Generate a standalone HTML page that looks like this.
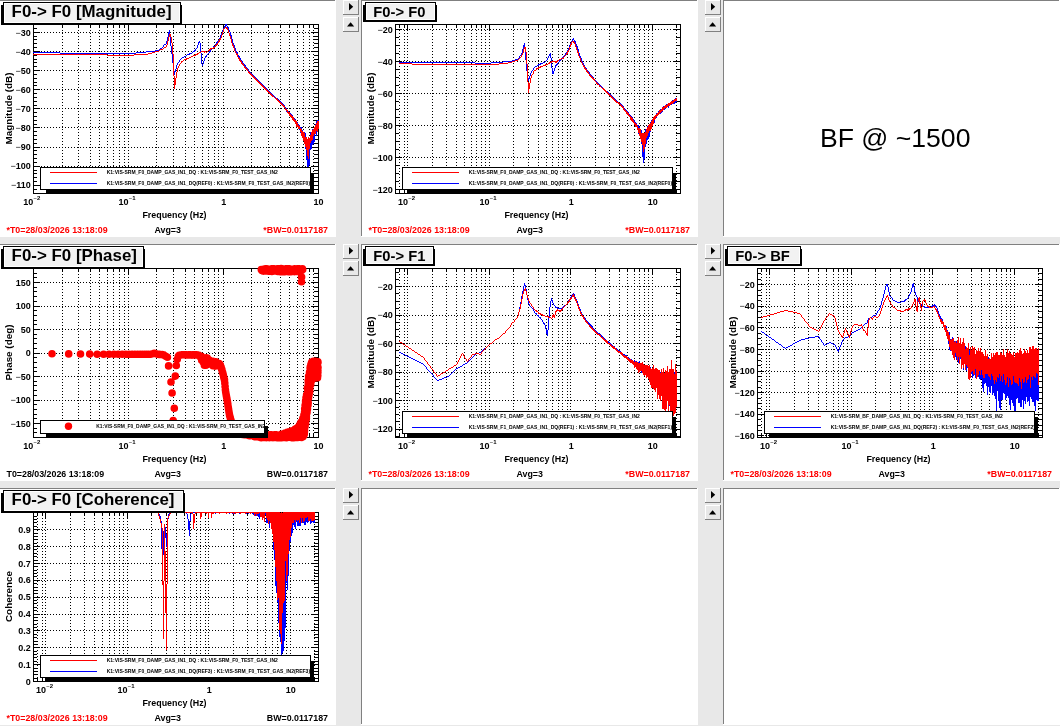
<!DOCTYPE html>
<html><head><meta charset="utf-8"><title>diaggui plots</title>
<style>
html,body{margin:0;padding:0;background:#e8e8e8;overflow:hidden}
svg{display:block;font-family:'Liberation Sans', Arial, Helvetica, sans-serif}
text{font-family:'Liberation Sans', Arial, Helvetica, sans-serif}
</style></head><body>
<svg width="1060" height="726" viewBox="0 0 1060 726">
<rect x="0" y="0" width="1060" height="726" fill="#e8e8e8"/>
<rect x="-1" y="0" width="337" height="237" fill="#ffffff"/>
<rect x="-1" y="0" width="336" height="1" fill="#808080"/>
<rect x="-1" y="0" width="1" height="236" fill="#808080"/>
<rect x="343" y="0" width="16" height="15" fill="#e8e8e8"/>
<rect x="343" y="0" width="15" height="1" fill="#ffffff"/>
<rect x="343" y="0" width="1" height="14" fill="#ffffff"/>
<rect x="343" y="14" width="16" height="1" fill="#808080"/>
<rect x="358" y="0" width="1" height="15" fill="#808080"/>
<path d="M349,3 L349,10.5 L353.2,6.75 Z" fill="#000"/>
<rect x="343" y="17" width="16" height="15" fill="#e8e8e8"/>
<rect x="343" y="17" width="15" height="1" fill="#ffffff"/>
<rect x="343" y="17" width="1" height="14" fill="#ffffff"/>
<rect x="343" y="31" width="16" height="1" fill="#808080"/>
<rect x="358" y="17" width="1" height="15" fill="#808080"/>
<path d="M347,26.5 L354.2,26.5 L350.6,22.3 Z" fill="#000"/>
<rect x="361" y="0" width="337" height="237" fill="#ffffff"/>
<rect x="361" y="0" width="336" height="1" fill="#808080"/>
<rect x="361" y="0" width="1" height="236" fill="#808080"/>
<rect x="705" y="0" width="16" height="15" fill="#e8e8e8"/>
<rect x="705" y="0" width="15" height="1" fill="#ffffff"/>
<rect x="705" y="0" width="1" height="14" fill="#ffffff"/>
<rect x="705" y="14" width="16" height="1" fill="#808080"/>
<rect x="720" y="0" width="1" height="15" fill="#808080"/>
<path d="M711,3 L711,10.5 L715.2,6.75 Z" fill="#000"/>
<rect x="705" y="17" width="16" height="15" fill="#e8e8e8"/>
<rect x="705" y="17" width="15" height="1" fill="#ffffff"/>
<rect x="705" y="17" width="1" height="14" fill="#ffffff"/>
<rect x="705" y="31" width="16" height="1" fill="#808080"/>
<rect x="720" y="17" width="1" height="15" fill="#808080"/>
<path d="M709,26.5 L716.2,26.5 L712.6,22.3 Z" fill="#000"/>
<rect x="723" y="0" width="337" height="237" fill="#ffffff"/>
<rect x="723" y="0" width="336" height="1" fill="#808080"/>
<rect x="723" y="0" width="1" height="236" fill="#808080"/>
<rect x="-1" y="244" width="337" height="237" fill="#ffffff"/>
<rect x="-1" y="244" width="336" height="1" fill="#808080"/>
<rect x="-1" y="244" width="1" height="236" fill="#808080"/>
<rect x="343" y="244" width="16" height="15" fill="#e8e8e8"/>
<rect x="343" y="244" width="15" height="1" fill="#ffffff"/>
<rect x="343" y="244" width="1" height="14" fill="#ffffff"/>
<rect x="343" y="258" width="16" height="1" fill="#808080"/>
<rect x="358" y="244" width="1" height="15" fill="#808080"/>
<path d="M349,247 L349,254.5 L353.2,250.75 Z" fill="#000"/>
<rect x="343" y="261" width="16" height="15" fill="#e8e8e8"/>
<rect x="343" y="261" width="15" height="1" fill="#ffffff"/>
<rect x="343" y="261" width="1" height="14" fill="#ffffff"/>
<rect x="343" y="275" width="16" height="1" fill="#808080"/>
<rect x="358" y="261" width="1" height="15" fill="#808080"/>
<path d="M347,270.5 L354.2,270.5 L350.6,266.3 Z" fill="#000"/>
<rect x="361" y="244" width="337" height="237" fill="#ffffff"/>
<rect x="361" y="244" width="336" height="1" fill="#808080"/>
<rect x="361" y="244" width="1" height="236" fill="#808080"/>
<rect x="705" y="244" width="16" height="15" fill="#e8e8e8"/>
<rect x="705" y="244" width="15" height="1" fill="#ffffff"/>
<rect x="705" y="244" width="1" height="14" fill="#ffffff"/>
<rect x="705" y="258" width="16" height="1" fill="#808080"/>
<rect x="720" y="244" width="1" height="15" fill="#808080"/>
<path d="M711,247 L711,254.5 L715.2,250.75 Z" fill="#000"/>
<rect x="705" y="261" width="16" height="15" fill="#e8e8e8"/>
<rect x="705" y="261" width="15" height="1" fill="#ffffff"/>
<rect x="705" y="261" width="1" height="14" fill="#ffffff"/>
<rect x="705" y="275" width="16" height="1" fill="#808080"/>
<rect x="720" y="261" width="1" height="15" fill="#808080"/>
<path d="M709,270.5 L716.2,270.5 L712.6,266.3 Z" fill="#000"/>
<rect x="723" y="244" width="337" height="237" fill="#ffffff"/>
<rect x="723" y="244" width="336" height="1" fill="#808080"/>
<rect x="723" y="244" width="1" height="236" fill="#808080"/>
<rect x="-1" y="488" width="337" height="237" fill="#ffffff"/>
<rect x="-1" y="488" width="336" height="1" fill="#808080"/>
<rect x="-1" y="488" width="1" height="236" fill="#808080"/>
<rect x="343" y="488" width="16" height="15" fill="#e8e8e8"/>
<rect x="343" y="488" width="15" height="1" fill="#ffffff"/>
<rect x="343" y="488" width="1" height="14" fill="#ffffff"/>
<rect x="343" y="502" width="16" height="1" fill="#808080"/>
<rect x="358" y="488" width="1" height="15" fill="#808080"/>
<path d="M349,491 L349,498.5 L353.2,494.75 Z" fill="#000"/>
<rect x="343" y="505" width="16" height="15" fill="#e8e8e8"/>
<rect x="343" y="505" width="15" height="1" fill="#ffffff"/>
<rect x="343" y="505" width="1" height="14" fill="#ffffff"/>
<rect x="343" y="519" width="16" height="1" fill="#808080"/>
<rect x="358" y="505" width="1" height="15" fill="#808080"/>
<path d="M347,514.5 L354.2,514.5 L350.6,510.3 Z" fill="#000"/>
<rect x="361" y="488" width="337" height="237" fill="#ffffff"/>
<rect x="361" y="488" width="336" height="1" fill="#808080"/>
<rect x="361" y="488" width="1" height="236" fill="#808080"/>
<rect x="705" y="488" width="16" height="15" fill="#e8e8e8"/>
<rect x="705" y="488" width="15" height="1" fill="#ffffff"/>
<rect x="705" y="488" width="1" height="14" fill="#ffffff"/>
<rect x="705" y="502" width="16" height="1" fill="#808080"/>
<rect x="720" y="488" width="1" height="15" fill="#808080"/>
<path d="M711,491 L711,498.5 L715.2,494.75 Z" fill="#000"/>
<rect x="705" y="505" width="16" height="15" fill="#e8e8e8"/>
<rect x="705" y="505" width="15" height="1" fill="#ffffff"/>
<rect x="705" y="505" width="1" height="14" fill="#ffffff"/>
<rect x="705" y="519" width="16" height="1" fill="#808080"/>
<rect x="720" y="505" width="1" height="15" fill="#808080"/>
<path d="M709,514.5 L716.2,514.5 L712.6,510.3 Z" fill="#000"/>
<rect x="723" y="488" width="337" height="237" fill="#ffffff"/>
<rect x="723" y="488" width="336" height="1" fill="#808080"/>
<rect x="723" y="488" width="1" height="236" fill="#808080"/>
<path d="M128.5,24V193M223.5,24V193M62.5,24V193M78.5,24V193M90.5,24V193M99.5,24V193M107.5,24V193M113.5,24V193M119.5,24V193M124.5,24V193M156.5,24V193M173.5,24V193M185.5,24V193M194.5,24V193M202.5,24V193M208.5,24V193M214.5,24V193M218.5,24V193M251.5,24V193M268.5,24V193M280.5,24V193M289.5,24V193M297.5,24V193M303.5,24V193M309.5,24V193M313.5,24V193M35,32.5H318M35,51.5H318M35,70.5H318M35,89.5H318M35,108.5H318M35,127.5H318M35,147.5H318M35,166.5H318M35,185.5H318" stroke="#000" stroke-width="1" stroke-dasharray="1,2" fill="none" shape-rendering="crispEdges"/>
<rect x="33.5" y="24.5" width="285" height="169" fill="none" stroke="#000" stroke-width="1" shape-rendering="crispEdges"/>
<path d="M33.5,193v-6M33.5,25v6M128.5,193v-6M128.5,25v6M223.5,193v-6M223.5,25v6M318.5,193v-6M318.5,25v6M62.5,193v-3M62.5,25v3M78.5,193v-3M78.5,25v3M90.5,193v-3M90.5,25v3M99.5,193v-3M99.5,25v3M107.5,193v-3M107.5,25v3M113.5,193v-3M113.5,25v3M119.5,193v-3M119.5,25v3M124.5,193v-3M124.5,25v3M156.5,193v-3M156.5,25v3M173.5,193v-3M173.5,25v3M185.5,193v-3M185.5,25v3M194.5,193v-3M194.5,25v3M202.5,193v-3M202.5,25v3M208.5,193v-3M208.5,25v3M214.5,193v-3M214.5,25v3M218.5,193v-3M218.5,25v3M251.5,193v-3M251.5,25v3M268.5,193v-3M268.5,25v3M280.5,193v-3M280.5,25v3M289.5,193v-3M289.5,25v3M297.5,193v-3M297.5,25v3M303.5,193v-3M303.5,25v3M309.5,193v-3M309.5,25v3M313.5,193v-3M313.5,25v3M34,189.5h3M318,189.5h-4M34,185.5h6M318,185.5h-7M34,181.5h3M318,181.5h-4M34,177.5h3M318,177.5h-4M34,173.5h3M318,173.5h-4M34,170.5h3M318,170.5h-4M34,166.5h6M318,166.5h-7M34,162.5h3M318,162.5h-4M34,158.5h3M318,158.5h-4M34,154.5h3M318,154.5h-4M34,150.5h3M318,150.5h-4M34,147.5h6M318,147.5h-7M34,143.5h3M318,143.5h-4M34,139.5h3M318,139.5h-4M34,135.5h3M318,135.5h-4M34,131.5h3M318,131.5h-4M34,127.5h6M318,127.5h-7M34,124.5h3M318,124.5h-4M34,120.5h3M318,120.5h-4M34,116.5h3M318,116.5h-4M34,112.5h3M318,112.5h-4M34,108.5h6M318,108.5h-7M34,105.5h3M318,105.5h-4M34,101.5h3M318,101.5h-4M34,97.5h3M318,97.5h-4M34,93.5h3M318,93.5h-4M34,89.5h6M318,89.5h-7M34,85.5h3M318,85.5h-4M34,82.5h3M318,82.5h-4M34,78.5h3M318,78.5h-4M34,74.5h3M318,74.5h-4M34,70.5h6M318,70.5h-7M34,66.5h3M318,66.5h-4M34,62.5h3M318,62.5h-4M34,59.5h3M318,59.5h-4M34,55.5h3M318,55.5h-4M34,51.5h6M318,51.5h-7M34,47.5h3M318,47.5h-4M34,43.5h3M318,43.5h-4M34,39.5h3M318,39.5h-4M34,36.5h3M318,36.5h-4M34,32.5h6M318,32.5h-7M34,28.5h3M318,28.5h-4" stroke="#000" stroke-width="1" fill="none" shape-rendering="crispEdges"/>
<text x="30.8" y="35.5" font-size="9" font-weight="bold" text-anchor="end"><tspan font-weight="normal">−</tspan>30</text>
<text x="30.8" y="54.6" font-size="9" font-weight="bold" text-anchor="end"><tspan font-weight="normal">−</tspan>40</text>
<text x="30.8" y="73.7" font-size="9" font-weight="bold" text-anchor="end"><tspan font-weight="normal">−</tspan>50</text>
<text x="30.8" y="92.8" font-size="9" font-weight="bold" text-anchor="end"><tspan font-weight="normal">−</tspan>60</text>
<text x="30.8" y="111.9" font-size="9" font-weight="bold" text-anchor="end"><tspan font-weight="normal">−</tspan>70</text>
<text x="30.8" y="131.0" font-size="9" font-weight="bold" text-anchor="end"><tspan font-weight="normal">−</tspan>80</text>
<text x="30.8" y="150.2" font-size="9" font-weight="bold" text-anchor="end"><tspan font-weight="normal">−</tspan>90</text>
<text x="30.8" y="169.3" font-size="9" font-weight="bold" text-anchor="end"><tspan font-weight="normal">−</tspan>100</text>
<text x="30.8" y="188.4" font-size="9" font-weight="bold" text-anchor="end"><tspan font-weight="normal">−</tspan>110</text>
<text x="33.2" y="204.8" font-size="9" font-weight="bold" text-anchor="end">10</text>
<text x="33.4" y="200.4" font-size="6" font-weight="bold"><tspan font-weight="normal">−</tspan>2</text>
<text x="128.6" y="204.8" font-size="9" font-weight="bold" text-anchor="end">10</text>
<text x="128.8" y="200.4" font-size="6" font-weight="bold"><tspan font-weight="normal">−</tspan>1</text>
<text x="223.8" y="204.6" font-size="9" font-weight="bold" text-anchor="middle">1</text>
<text x="318.5" y="204.6" font-size="9" font-weight="bold" text-anchor="middle">10</text>
<text x="174.5" y="217.6" font-size="8.9" font-weight="bold" text-anchor="middle">Frequency (Hz)</text>
<text transform="translate(12.4,108.5) rotate(-90)" font-size="9.9" font-weight="bold" text-anchor="middle">Magnitude (dB)</text>
<clipPath id="pc0_0"><rect x="33" y="24" width="286" height="170"/></clipPath>
<g clip-path="url(#pc0_0)">
<path d="M163.5,45V47M166.5,41V44M167.5,37V41M168.5,32V37M169.5,30V37M170.5,37V46M171.5,46V54M172.5,54V63M173.5,63V71M174.5,71V75M175.5,69V72M176.5,65V69M177.5,63V65M179.5,60V62M189.5,53V55M194.5,50V52M195.5,49V51M197.5,45V48M198.5,42V45M199.5,41V43M200.5,43V53M201.5,53V64M202.5,64V66M203.5,61V64M204.5,58V61M205.5,56V58M206.5,55V57M209.5,51V53M210.5,50V52M213.5,46V48M215.5,44V46M216.5,42V44M217.5,41V43M218.5,40V42M219.5,38V40M220.5,35V38M221.5,33V35M222.5,30V33M223.5,28V30M224.5,26V29M225.5,24V27M226.5,24V26M227.5,26V28M228.5,27V30M229.5,30V32M230.5,32V36M231.5,35V39M232.5,39V43M233.5,43V46M234.5,45V48M235.5,48V51M236.5,51V53M237.5,52V55M238.5,55V57M239.5,56V59M240.5,58V61M241.5,60V62M242.5,61V64M243.5,63V65M244.5,64V66M245.5,65V67M246.5,67V69M247.5,68V70M248.5,69V71M249.5,71V73M250.5,72V74M251.5,73V75M252.5,74V76M253.5,75V77M254.5,76V78M255.5,77V79M256.5,78V80M257.5,79V81M258.5,80V82M259.5,81V83M260.5,82V84M261.5,83V85M262.5,84V86M263.5,85V87M264.5,86V88M265.5,87V89M266.5,88V90M267.5,89V91M268.5,90V92M269.5,91V93M270.5,92V94M271.5,93V95M272.5,94V96M273.5,95V97M274.5,96V98M277.5,98V100M278.5,99V101M279.5,100V102M280.5,101V103M281.5,102V104M282.5,103V105M283.5,104V106M284.5,105V107M285.5,107V110M286.5,108V112M287.5,110V112M288.5,111V113M289.5,112V115M290.5,113V116M291.5,114V117M292.5,115V119M293.5,117V120M294.5,118V121M295.5,119V123M296.5,121V125M297.5,122V127M298.5,124V128M299.5,125V130M300.5,127V133M301.5,127V135M302.5,130V138M303.5,132V141M304.5,132V144M305.5,133V149M306.5,139V160M307.5,140V172M308.5,145V170M309.5,139V165M310.5,132V150M311.5,132V149M312.5,129V145M313.5,129V144M314.5,128V142M315.5,124V134M316.5,121V136M317.5,120V129M318.5,120V127M164,44.5H166M214,46.5H215M162,47.5H163M160,48.5H162M196,48.5H197M212,48.5H213M159,49.5H160M211,49.5H212M155,50.5H159M146,51.5H155M193,51.5H194M33,52.5H60M136,52.5H146M192,52.5H193M60,53.5H136M190,53.5H192M208,53.5H209M187,54.5H189M207,54.5H208M186,55.5H187M184,56.5H186M182,57.5H184M181,58.5H182M180,59.5H181M178,62.5H179M275,97.5H276M276,98.5H277" stroke="#0000ff" stroke-width="1" fill="none" shape-rendering="crispEdges"/>
<path d="M166.5,45V47M167.5,41V45M168.5,37V41M169.5,34V37M170.5,34V37M171.5,37V43M172.5,43V54M173.5,54V76M174.5,76V89M175.5,78V85M176.5,72V78M177.5,68V72M178.5,66V68M179.5,64V66M181.5,61V63M186.5,58V60M195.5,54V56M197.5,53V55M204.5,51V53M209.5,49V51M210.5,48V50M213.5,47V49M215.5,45V47M216.5,44V46M217.5,43V45M218.5,41V43M219.5,39V42M220.5,38V40M221.5,35V38M222.5,32V35M223.5,29V32M226.5,27V29M227.5,28V30M228.5,30V33M229.5,33V36M230.5,36V39M231.5,39V43M232.5,43V46M233.5,45V48M234.5,48V51M235.5,51V53M236.5,53V55M237.5,54V57M238.5,57V59M239.5,58V61M240.5,60V62M241.5,61V64M242.5,63V65M243.5,64V66M244.5,66V68M245.5,67V69M246.5,68V70M247.5,69V71M248.5,71V73M249.5,72V74M250.5,73V75M251.5,74V76M252.5,75V77M253.5,76V78M254.5,77V79M255.5,78V80M256.5,79V81M257.5,80V82M258.5,81V83M259.5,82V84M260.5,83V85M261.5,84V86M262.5,85V87M263.5,86V88M264.5,87V89M265.5,88V90M266.5,89V91M267.5,90V92M268.5,91V93M269.5,92V94M270.5,93V95M271.5,94V96M272.5,95V97M276.5,98V100M277.5,99V101M278.5,100V102M279.5,101V103M280.5,102V104M281.5,103V105M282.5,104V106M283.5,105V107M284.5,106V108M285.5,108V110M286.5,109V111M287.5,110V113M288.5,112V114M289.5,112V116M290.5,114V117M291.5,115V118M292.5,116V120M293.5,117V121M294.5,119V122M295.5,120V124M296.5,121V127M297.5,123V127M298.5,125V129M299.5,126V129M300.5,128V132M301.5,129V136M302.5,131V138M303.5,132V141M304.5,133V144M305.5,137V147M306.5,137V150M307.5,139V156M308.5,137V159M309.5,138V149M310.5,135V143M311.5,132V141M312.5,130V140M313.5,129V136M314.5,127V134M315.5,125V134M316.5,123V131M317.5,121V132M318.5,121V129M225,27.5H226M224,28.5H225M164,47.5H166M214,47.5H215M163,48.5H164M211,48.5H213M160,49.5H163M159,50.5H160M208,50.5H209M155,51.5H159M201,51.5H204M205,51.5H206M207,51.5H208M152,52.5H155M199,52.5H201M206,52.5H207M148,53.5H152M198,53.5H199M33,54.5H107M134,54.5H148M196,54.5H197M107,55.5H134M193,55.5H195M191,56.5H193M189,57.5H191M187,58.5H189M184,59.5H186M183,60.5H184M182,61.5H183M180,63.5H181M273,96.5H274M274,97.5H275M275,98.5H276" stroke="#ff0000" stroke-width="1" fill="none" shape-rendering="crispEdges"/>
</g>
<rect x="46" y="173" width="268" height="21" fill="#000"/>
<rect x="40" y="167" width="271" height="23" fill="#000"/>
<rect x="41" y="168" width="269" height="21" fill="#fff"/>
<path d="M50,172.5H97" stroke="#ff0000" stroke-width="1" shape-rendering="crispEdges"/>
<path d="M50,183.5H97" stroke="#0000ff" stroke-width="1" shape-rendering="crispEdges"/>
<clipPath id="lc0_0"><rect x="41" y="168" width="269" height="21"/></clipPath>
<g clip-path="url(#lc0_0)" font-size="5" font-weight="bold"><text x="106.7" y="174.4">K1:VIS-SRM_F0_DAMP_GAS_IN1_DQ : K1:VIS-SRM_F0_TEST_GAS_IN2</text><text x="106.7" y="185.4">K1:VIS-SRM_F0_DAMP_GAS_IN1_DQ(REF0) : K1:VIS-SRM_F0_TEST_GAS_IN2(REF0)</text></g>
<rect x="1" y="5" width="181" height="20" fill="#000"/>
<rect x="3" y="2" width="178" height="22" fill="#000"/>
<rect x="4" y="3" width="176" height="20" fill="#fff"/>
<rect x="5" y="4" width="174" height="18" fill="#f2f2f2"/>
<text x="11.6" y="16.8" font-size="16.9" font-weight="bold" fill="#000">F0-&gt; F0 [Magnitude]</text>
<text x="6.5" y="232.7" font-size="8.85" font-weight="bold" fill="#ff0000">*T0=28/03/2026 13:18:09</text>
<text x="167.7" y="232.7" font-size="8.85" font-weight="bold" text-anchor="middle">Avg=3</text>
<text x="328" y="232.7" font-size="8.85" font-weight="bold" fill="#ff0000" text-anchor="end">*BW=0.0117187</text>
<path d="M407.5,24V193M489.5,24V193M570.5,24V193M652.5,24V193M399.5,24V193M404.5,24V193M432.5,24V193M446.5,24V193M456.5,24V193M464.5,24V193M471.5,24V193M476.5,24V193M481.5,24V193M485.5,24V193M513.5,24V193M528.5,24V193M538.5,24V193M546.5,24V193M552.5,24V193M558.5,24V193M562.5,24V193M567.5,24V193M595.5,24V193M609.5,24V193M619.5,24V193M627.5,24V193M634.5,24V193M639.5,24V193M644.5,24V193M648.5,24V193M676.5,24V193M397,29.5H680M397,61.5H680M397,93.5H680M397,125.5H680M397,157.5H680M397,189.5H680" stroke="#000" stroke-width="1" stroke-dasharray="1,2" fill="none" shape-rendering="crispEdges"/>
<rect x="395.5" y="24.5" width="285" height="169" fill="none" stroke="#000" stroke-width="1" shape-rendering="crispEdges"/>
<path d="M407.5,193v-6M407.5,25v6M489.5,193v-6M489.5,25v6M570.5,193v-6M570.5,25v6M652.5,193v-6M652.5,25v6M399.5,193v-3M399.5,25v3M404.5,193v-3M404.5,25v3M432.5,193v-3M432.5,25v3M446.5,193v-3M446.5,25v3M456.5,193v-3M456.5,25v3M464.5,193v-3M464.5,25v3M471.5,193v-3M471.5,25v3M476.5,193v-3M476.5,25v3M481.5,193v-3M481.5,25v3M485.5,193v-3M485.5,25v3M513.5,193v-3M513.5,25v3M528.5,193v-3M528.5,25v3M538.5,193v-3M538.5,25v3M546.5,193v-3M546.5,25v3M552.5,193v-3M552.5,25v3M558.5,193v-3M558.5,25v3M562.5,193v-3M562.5,25v3M567.5,193v-3M567.5,25v3M595.5,193v-3M595.5,25v3M609.5,193v-3M609.5,25v3M619.5,193v-3M619.5,25v3M627.5,193v-3M627.5,25v3M634.5,193v-3M634.5,25v3M639.5,193v-3M639.5,25v3M644.5,193v-3M644.5,25v3M648.5,193v-3M648.5,25v3M676.5,193v-3M676.5,25v3M396,189.5h6M680,189.5h-7M396,181.5h3M680,181.5h-4M396,173.5h3M680,173.5h-4M396,165.5h3M680,165.5h-4M396,157.5h6M680,157.5h-7M396,149.5h3M680,149.5h-4M396,141.5h3M680,141.5h-4M396,133.5h3M680,133.5h-4M396,125.5h6M680,125.5h-7M396,117.5h3M680,117.5h-4M396,109.5h3M680,109.5h-4M396,101.5h3M680,101.5h-4M396,93.5h6M680,93.5h-7M396,85.5h3M680,85.5h-4M396,77.5h3M680,77.5h-4M396,69.5h3M680,69.5h-4M396,61.5h6M680,61.5h-7M396,53.5h3M680,53.5h-4M396,45.5h3M680,45.5h-4M396,37.5h3M680,37.5h-4M396,29.5h6M680,29.5h-7" stroke="#000" stroke-width="1" fill="none" shape-rendering="crispEdges"/>
<text x="392.8" y="32.5" font-size="9" font-weight="bold" text-anchor="end"><tspan font-weight="normal">−</tspan>20</text>
<text x="392.8" y="64.5" font-size="9" font-weight="bold" text-anchor="end"><tspan font-weight="normal">−</tspan>40</text>
<text x="392.8" y="96.5" font-size="9" font-weight="bold" text-anchor="end"><tspan font-weight="normal">−</tspan>60</text>
<text x="392.8" y="128.5" font-size="9" font-weight="bold" text-anchor="end"><tspan font-weight="normal">−</tspan>80</text>
<text x="392.8" y="160.5" font-size="9" font-weight="bold" text-anchor="end"><tspan font-weight="normal">−</tspan>100</text>
<text x="392.8" y="192.5" font-size="9" font-weight="bold" text-anchor="end"><tspan font-weight="normal">−</tspan>120</text>
<text x="408.0" y="204.8" font-size="9" font-weight="bold" text-anchor="end">10</text>
<text x="408.2" y="200.4" font-size="6" font-weight="bold"><tspan font-weight="normal">−</tspan>2</text>
<text x="489.5" y="204.8" font-size="9" font-weight="bold" text-anchor="end">10</text>
<text x="489.7" y="200.4" font-size="6" font-weight="bold"><tspan font-weight="normal">−</tspan>1</text>
<text x="571.3" y="204.6" font-size="9" font-weight="bold" text-anchor="middle">1</text>
<text x="652.8" y="204.6" font-size="9" font-weight="bold" text-anchor="middle">10</text>
<text x="536.5" y="217.6" font-size="8.9" font-weight="bold" text-anchor="middle">Frequency (Hz)</text>
<text transform="translate(374.4,108.5) rotate(-90)" font-size="9.9" font-weight="bold" text-anchor="middle">Magnitude (dB)</text>
<clipPath id="pc362_0"><rect x="395" y="24" width="286" height="170"/></clipPath>
<g clip-path="url(#pc362_0)">
<path d="M519.5,56V58M521.5,53V55M522.5,49V53M523.5,45V49M524.5,43V49M525.5,49V60M526.5,60V71M527.5,71V78M528.5,78V81M529.5,76V79M530.5,73V76M531.5,71V73M533.5,68V70M538.5,64V66M540.5,63V65M547.5,58V60M548.5,56V58M549.5,54V56M550.5,53V58M551.5,58V68M552.5,68V74M553.5,71V74M554.5,68V71M555.5,65V68M556.5,64V66M557.5,63V65M559.5,60V62M560.5,59V61M561.5,58V60M562.5,57V59M563.5,56V58M564.5,55V57M565.5,53V55M566.5,52V54M567.5,50V52M568.5,48V50M569.5,45V48M570.5,43V45M571.5,41V43M572.5,39V41M573.5,38V40M574.5,40V42M575.5,41V44M576.5,44V47M577.5,46V50M578.5,49V53M579.5,53V56M580.5,56V59M581.5,58V62M582.5,61V64M583.5,63V65M584.5,65V68M585.5,67V69M586.5,68V70M587.5,70V72M588.5,71V73M589.5,72V75M590.5,74V76M591.5,75V77M592.5,76V78M593.5,77V79M595.5,80V82M596.5,81V83M597.5,82V84M598.5,83V85M599.5,84V86M600.5,85V87M601.5,86V88M603.5,88V90M607.5,91V93M608.5,92V94M609.5,93V95M610.5,94V96M611.5,95V97M612.5,96V98M613.5,97V99M614.5,98V100M615.5,99V101M616.5,100V102M617.5,101V103M618.5,102V104M620.5,103V105M621.5,104V106M622.5,105V107M623.5,106V109M624.5,108V110M625.5,109V112M626.5,110V113M627.5,111V115M628.5,112V116M629.5,114V117M630.5,115V119M631.5,116V119M632.5,117V120M633.5,119V123M634.5,120V125M635.5,122V127M636.5,123V127M637.5,125V130M638.5,125V134M639.5,127V135M640.5,129V139M641.5,130V144M642.5,135V157M643.5,136V163M644.5,137V159M645.5,129V147M646.5,129V144M647.5,126V140M648.5,126V139M649.5,124V137M650.5,122V132M651.5,120V127M652.5,119V126M653.5,117V123M654.5,116V123M655.5,115V119M656.5,113V118M657.5,113V116M658.5,111V115M659.5,110V114M660.5,109V114M661.5,109V113M662.5,107V112M663.5,106V110M664.5,106V110M665.5,105V109M666.5,104V108M667.5,104V107M668.5,103V108M669.5,103V106M670.5,102V105M671.5,101V105M672.5,100V104M673.5,100V104M674.5,99V104M675.5,98V103M676.5,98V102M520,55.5H521M518,58.5H519M515,59.5H518M512,60.5H515M546,60.5H547M503,61.5H512M545,61.5H546M399,62.5H475M491,62.5H503M543,62.5H545M558,62.5H559M475,63.5H491M541,63.5H543M539,64.5H540M537,65.5H538M535,66.5H537M534,67.5H535M532,70.5H533M594,79.5H595M602,87.5H603M604,89.5H605M605,90.5H606M606,91.5H607M619,103.5H620" stroke="#0000ff" stroke-width="1" fill="none" shape-rendering="crispEdges"/>
<path d="M521.5,55V57M522.5,53V55M523.5,49V53M524.5,47V49M525.5,47V52M526.5,52V64M527.5,64V82M528.5,82V93M529.5,83V89M530.5,78V83M531.5,75V78M533.5,71V74M536.5,68V70M538.5,67V69M540.5,66V68M545.5,64V66M549.5,62V64M551.5,61V63M555.5,61V63M556.5,61V63M557.5,60V62M563.5,57V59M566.5,53V55M567.5,51V54M568.5,50V52M569.5,47V50M570.5,44V47M571.5,42V45M573.5,41V43M574.5,42V44M575.5,44V47M576.5,47V50M577.5,50V53M578.5,52V56M579.5,56V58M580.5,58V61M581.5,61V63M582.5,63V65M583.5,65V67M584.5,66V69M585.5,68V70M586.5,69V72M587.5,71V73M588.5,72V74M589.5,74V76M590.5,75V77M591.5,76V78M592.5,77V79M593.5,78V80M594.5,79V81M596.5,82V84M597.5,83V85M599.5,85V87M603.5,88V90M604.5,89V91M605.5,90V92M606.5,91V93M607.5,92V94M608.5,93V95M609.5,94V96M610.5,95V97M611.5,96V98M612.5,97V99M613.5,98V100M614.5,99V101M615.5,100V102M616.5,101V103M618.5,102V104M619.5,103V105M620.5,104V106M621.5,105V107M622.5,106V108M623.5,107V110M624.5,109V111M625.5,110V112M626.5,111V114M627.5,112V115M628.5,113V116M629.5,115V117M630.5,116V120M631.5,117V121M632.5,118V122M633.5,120V123M634.5,122V125M635.5,123V127M636.5,124V127M637.5,126V130M638.5,128V133M639.5,128V136M640.5,129V139M641.5,133V142M642.5,133V145M643.5,133V152M644.5,133V149M645.5,132V144M646.5,129V138M647.5,127V136M648.5,125V133M649.5,124V131M650.5,123V131M651.5,121V129M652.5,119V126M653.5,117V124M654.5,116V120M655.5,115V119M656.5,114V117M657.5,113V116M658.5,112V115M659.5,110V114M660.5,110V113M661.5,109V112M662.5,107V111M663.5,107V110M664.5,106V109M665.5,105V108M666.5,105V108M667.5,104V107M668.5,103V106M669.5,103V106M670.5,102V105M671.5,101V104M672.5,101V104M673.5,100V103M674.5,99V102M675.5,99V101M676.5,98V101M572,41.5H573M565,55.5H566M564,56.5H565M520,57.5H521M519,58.5H520M561,58.5H563M518,59.5H519M559,59.5H561M515,60.5H518M558,60.5H559M512,61.5H515M552,61.5H555M508,62.5H512M550,62.5H551M399,63.5H412M499,63.5H508M548,63.5H549M412,64.5H499M546,64.5H548M543,65.5H545M541,66.5H543M539,67.5H540M537,68.5H538M534,70.5H536M532,74.5H533M595,81.5H596M598,84.5H599M600,86.5H601M601,87.5H602M602,88.5H603M617,102.5H618" stroke="#ff0000" stroke-width="1" fill="none" shape-rendering="crispEdges"/>
</g>
<rect x="408" y="173" width="268" height="21" fill="#000"/>
<rect x="402" y="167" width="271" height="23" fill="#000"/>
<rect x="403" y="168" width="269" height="21" fill="#fff"/>
<path d="M412,172.5H459" stroke="#ff0000" stroke-width="1" shape-rendering="crispEdges"/>
<path d="M412,183.5H459" stroke="#0000ff" stroke-width="1" shape-rendering="crispEdges"/>
<clipPath id="lc362_0"><rect x="403" y="168" width="269" height="21"/></clipPath>
<g clip-path="url(#lc362_0)" font-size="5" font-weight="bold"><text x="468.7" y="174.4">K1:VIS-SRM_F0_DAMP_GAS_IN1_DQ : K1:VIS-SRM_F0_TEST_GAS_IN2</text><text x="468.7" y="185.4">K1:VIS-SRM_F0_DAMP_GAS_IN1_DQ(REF0) : K1:VIS-SRM_F0_TEST_GAS_IN2(REF0)</text></g>
<rect x="363" y="5" width="74" height="17" fill="#000"/>
<rect x="365" y="2" width="71" height="19" fill="#000"/>
<rect x="366" y="3" width="69" height="17" fill="#fff"/>
<rect x="367" y="4" width="67" height="15" fill="#f2f2f2"/>
<text x="373.3" y="16.55" font-size="14.75" font-weight="bold" fill="#000">F0-&gt; F0</text>
<text x="368.5" y="232.7" font-size="8.85" font-weight="bold" fill="#ff0000">*T0=28/03/2026 13:18:09</text>
<text x="529.7" y="232.7" font-size="8.85" font-weight="bold" text-anchor="middle">Avg=3</text>
<text x="690" y="232.7" font-size="8.85" font-weight="bold" fill="#ff0000" text-anchor="end">*BW=0.0117187</text>
<text x="895.2" y="146.8" font-size="26.6" text-anchor="middle" fill="#000">BF @ ~1500</text>
<path d="M128.5,268V437M223.5,268V437M62.5,268V437M78.5,268V437M90.5,268V437M99.5,268V437M107.5,268V437M113.5,268V437M119.5,268V437M124.5,268V437M156.5,268V437M173.5,268V437M185.5,268V437M194.5,268V437M202.5,268V437M208.5,268V437M214.5,268V437M218.5,268V437M251.5,268V437M268.5,268V437M280.5,268V437M289.5,268V437M297.5,268V437M303.5,268V437M309.5,268V437M313.5,268V437M35,282.5H318M35,306.5H318M35,329.5H318M35,353.5H318M35,376.5H318M35,400.5H318M35,423.5H318" stroke="#000" stroke-width="1" stroke-dasharray="1,2" fill="none" shape-rendering="crispEdges"/>
<rect x="33.5" y="268.5" width="285" height="169" fill="none" stroke="#000" stroke-width="1" shape-rendering="crispEdges"/>
<path d="M33.5,437v-6M33.5,269v6M128.5,437v-6M128.5,269v6M223.5,437v-6M223.5,269v6M318.5,437v-6M318.5,269v6M62.5,437v-3M62.5,269v3M78.5,437v-3M78.5,269v3M90.5,437v-3M90.5,269v3M99.5,437v-3M99.5,269v3M107.5,437v-3M107.5,269v3M113.5,437v-3M113.5,269v3M119.5,437v-3M119.5,269v3M124.5,437v-3M124.5,269v3M156.5,437v-3M156.5,269v3M173.5,437v-3M173.5,269v3M185.5,437v-3M185.5,269v3M194.5,437v-3M194.5,269v3M202.5,437v-3M202.5,269v3M208.5,437v-3M208.5,269v3M214.5,437v-3M214.5,269v3M218.5,437v-3M218.5,269v3M251.5,437v-3M251.5,269v3M268.5,437v-3M268.5,269v3M280.5,437v-3M280.5,269v3M289.5,437v-3M289.5,269v3M297.5,437v-3M297.5,269v3M303.5,437v-3M303.5,269v3M309.5,437v-3M309.5,269v3M313.5,437v-3M313.5,269v3M34,432.5h3M318,432.5h-4M34,428.5h3M318,428.5h-4M34,423.5h6M318,423.5h-7M34,418.5h3M318,418.5h-4M34,414.5h3M318,414.5h-4M34,409.5h3M318,409.5h-4M34,404.5h3M318,404.5h-4M34,400.5h6M318,400.5h-7M34,395.5h3M318,395.5h-4M34,390.5h3M318,390.5h-4M34,385.5h3M318,385.5h-4M34,381.5h3M318,381.5h-4M34,376.5h6M318,376.5h-7M34,371.5h3M318,371.5h-4M34,367.5h3M318,367.5h-4M34,362.5h3M318,362.5h-4M34,357.5h3M318,357.5h-4M34,353.5h6M318,353.5h-7M34,348.5h3M318,348.5h-4M34,343.5h3M318,343.5h-4M34,338.5h3M318,338.5h-4M34,334.5h3M318,334.5h-4M34,329.5h6M318,329.5h-7M34,324.5h3M318,324.5h-4M34,320.5h3M318,320.5h-4M34,315.5h3M318,315.5h-4M34,310.5h3M318,310.5h-4M34,306.5h6M318,306.5h-7M34,301.5h3M318,301.5h-4M34,296.5h3M318,296.5h-4M34,291.5h3M318,291.5h-4M34,287.5h3M318,287.5h-4M34,282.5h6M318,282.5h-7M34,277.5h3M318,277.5h-4M34,273.5h3M318,273.5h-4" stroke="#000" stroke-width="1" fill="none" shape-rendering="crispEdges"/>
<text x="30.8" y="285.7" font-size="9" font-weight="bold" text-anchor="end">150</text>
<text x="30.8" y="309.2" font-size="9" font-weight="bold" text-anchor="end">100</text>
<text x="30.8" y="332.7" font-size="9" font-weight="bold" text-anchor="end">50</text>
<text x="30.8" y="356.2" font-size="9" font-weight="bold" text-anchor="end">0</text>
<text x="30.8" y="379.7" font-size="9" font-weight="bold" text-anchor="end"><tspan font-weight="normal">−</tspan>50</text>
<text x="30.8" y="403.2" font-size="9" font-weight="bold" text-anchor="end"><tspan font-weight="normal">−</tspan>100</text>
<text x="30.8" y="426.7" font-size="9" font-weight="bold" text-anchor="end"><tspan font-weight="normal">−</tspan>150</text>
<text x="33.2" y="448.8" font-size="9" font-weight="bold" text-anchor="end">10</text>
<text x="33.4" y="444.4" font-size="6" font-weight="bold"><tspan font-weight="normal">−</tspan>2</text>
<text x="128.6" y="448.8" font-size="9" font-weight="bold" text-anchor="end">10</text>
<text x="128.8" y="444.4" font-size="6" font-weight="bold"><tspan font-weight="normal">−</tspan>1</text>
<text x="223.8" y="448.6" font-size="9" font-weight="bold" text-anchor="middle">1</text>
<text x="318.5" y="448.6" font-size="9" font-weight="bold" text-anchor="middle">10</text>
<text x="174.5" y="461.6" font-size="8.9" font-weight="bold" text-anchor="middle">Frequency (Hz)</text>
<text transform="translate(12.4,352.5) rotate(-90)" font-size="9.9" font-weight="bold" text-anchor="middle">Phase (deg)</text>
<path d="M52,353.7h0M68.7,353.9h0M80.5,354h0M89.7,354.1h0M97.2,354.2h0M103.6,354.2h0M109,354.2h0M113.9,354.2h0M118.2,354.2h0M122.2,354.2h0M125.7,354.3h0M129,354.3h0M132.1,354.3h0M134.9,354.3h0M137.6,354.3h0M140.1,354.3h0M142.4,354.3h0M144.7,354.3h0M146.8,354.3h0M148.8,354.3h0M150.7,354.2h0M152.5,353.8h0M154.3,353.4h0M156,353.8h0M157.6,354.2h0M159.1,354.4h0M160.6,354.5h0M162.1,354.5h0M163.5,354.9h0M164.8,355.7h0M166.1,356.5h0M167.4,357.2h0M168.6,365.9h0M169.8,428h0M171,382h0M172.1,393h0M173.2,420.6h0M174.3,408.2h0M175.3,376.1h0M176.3,365.5h0M177.3,359.3h0M178.3,356.2h0M179.2,355.2h0M180.2,355.3h0M181.1,355h0M182,354.8h0M182.8,354.8h0M183.7,354.8h0M184.5,354.8h0M185.3,354.9h0M186.1,354.9h0M186.9,355h0M187.7,355h0M188.4,354.9h0M189.2,354.9h0M189.9,355h0M190.6,354.9h0M191.3,355h0M192,355.1h0M192.7,355h0M193.4,355h0M194,355h0M194.7,355h0M195.3,355h0M195.9,355h0M196.5,355h0M197.2,355.1h0M197.8,355.3h0M198.4,355.2h0M198.9,355.4h0M199.5,356.1h0M200.1,356.7h0M200.6,356.8h0M201.2,356.4h0M201.7,360.2h0M202.3,360h0M202.8,360.8h0M203.3,362.3h0M203.8,361.6h0M204.4,365.2h0M204.9,358.2h0M205.4,359.1h0M205.9,365.3h0M206.3,357.7h0M206.8,360.8h0M207.3,358.1h0M207.8,363.8h0M208.2,362.6h0M208.7,359.7h0M209.2,363.7h0M209.6,364h0M210,360.5h0M210.5,362.2h0M210.9,363.6h0M211.4,363.2h0M211.8,364.4h0M212.2,361.4h0M212.6,363h0M213,365.7h0M213.4,365.2h0M213.9,361.6h0M214.3,365.7h0M214.7,364.8h0M215,366.1h0M215.4,361.9h0M215.8,361.8h0M216.2,363.2h0M216.6,363.3h0M217,364.6h0M217.3,364.7h0M217.7,365.7h0M218.1,363.5h0M218.4,364.4h0M218.8,365.7h0M219.1,363.5h0M219.5,365.6h0M219.9,364.3h0M220.2,364.9h0M220.5,365.4h0M220.9,366.7h0M221.2,367.4h0M221.6,368.7h0M221.9,369.6h0M222.2,371.3h0M222.6,372.4h0M222.9,373.2h0M223.2,374.5h0M223.5,376.1h0M223.8,377.4h0M224.2,378.7h0M224.5,379.9h0M224.8,383.1h0M225.1,386.4h0M225.4,389.8h0M225.7,392.1h0M226,393.7h0M226.3,395.4h0M226.6,397h0M226.9,398.6h0M227.2,400.3h0M227.5,401.9h0M227.8,403.7h0M228,405.6h0M228.3,407.5h0M228.6,409.3h0M228.9,411.2h0M229.2,413h0M229.5,414.7h0M229.7,415.7h0M230,416.7h0M230.3,417.7h0M230.5,418.7h0M230.8,419.7h0M231.1,420.6h0M231.3,421.6h0M231.6,422.6h0M231.9,423.5h0M232.4,424.6h0M232.9,425.4h0M233.4,426.3h0M233.9,427h0M234.4,427.8h0M234.9,428.7h0M235.4,429.1h0M235.8,429.8h0M236.3,430.5h0M236.8,430.8h0M237.2,431.4h0M237.7,431.7h0M238.1,432h0M238.6,432.5h0M239,432.4h0M239.2,433.1h0M239.7,432.6h0M240.1,433.8h0M240.5,432.7h0M240.7,433.9h0M241,432.8h0M241.2,433.6h0M241.6,434h0M242,434.1h0M242.2,433.4h0M242.4,434.4h0M242.6,433h0M242.8,433.8h0M243.2,434.2h0M243.6,433.9h0M244,433.3h0M244.2,434.7h0M244.4,433h0M244.6,434.4h0M244.9,433.7h0M245.1,434.7h0M245.5,433.4h0M245.9,433.7h0M246.2,433.5h0M246.4,434.4h0M246.8,434.3h0M247.1,433.9h0M247.3,434.9h0M247.7,433.7h0M247.9,435.1h0M248,434.1h0M248.2,435h0M248.4,433.6h0M248.6,435.4h0M248.9,435.6h0M249.1,434.8h0M249.4,434.9h0M249.8,435.5h0M250.1,434.7h0M250.3,433.9h0M250.4,435.6h0M250.6,434.6h0M250.9,435.4h0M251.1,433.7h0M251.4,434.9h0M251.7,435.4h0M251.9,434.2h0M252.2,435h0M252.5,435.3h0M252.8,435.2h0M253.2,435.3h0M253.3,434h0M253.5,434.8h0M253.8,435.7h0M253.9,434.4h0M254.2,436.6h0M254.5,434.7h0M254.7,436.5h0M255.1,434.7h0M255.3,436.7h0M255.4,434.8h0M255.7,434.1h0M255.9,434.9h0M256.3,435.1h0M256.7,435.6h0M257,434.7h0M257.2,436h0M257.3,434.5h0M257.4,436h0M257.6,436.8h0M257.7,436.1h0M258,434.7h0M258.1,435.6h0M258.4,434.4h0M258.5,436.7h0M258.7,434.5h0M259.1,436.1h0M259.2,434.8h0M259.4,436.7h0M259.5,434.7h0M259.6,437.2h0M259.9,434.6h0M260,436.6h0M260.1,435.9h0M260.3,437h0M260.5,435.4h0M260.7,437.3h0M260.8,435.7h0M260.9,434.7h0M261.1,435.5h0M261.2,437.8h0M261.3,269.5h0M261.4,435.3h0M261.7,436.8h0M261.9,270.5h0M262.1,435.9h0M262.3,436.9h0M262.4,435.4h0M262.6,436.9h0M262.8,270.9h0M262.9,435h0M263.2,437.5h0M263.3,435.6h0M263.4,271.1h0M263.5,435.7h0M263.7,269.9h0M263.9,435.7h0M264,269.2h0M264.4,435.7h0M264.5,269.1h0M264.6,434.7h0M264.7,271h0M264.8,435.7h0M265.1,435h0M265.2,436.3h0M265.3,435.1h0M265.4,268.8h0M265.5,271h0M265.7,436.5h0M265.8,434.9h0M265.9,271h0M266.1,435.4h0M266.2,437.6h0M266.3,436.8h0M266.5,269.7h0M266.6,435.5h0M266.7,269.7h0M266.8,268.7h0M266.9,436.7h0M267,270.5h0M267.1,269.8h0M267.3,435.3h0M267.5,269.1h0M267.6,436.9h0M267.9,437.4h0M268,270.8h0M268.1,437.3h0M268.2,270.4h0M268.3,269h0M268.5,271.3h0M268.8,270.5h0M268.9,435.6h0M269,436.8h0M269.2,435.1h0M269.3,437.6h0M269.4,436h0M269.5,270.6h0M269.7,434.7h0M269.8,437.2h0M269.9,271.3h0M270,437.5h0M270.1,270.6h0M270.2,271.3h0M270.4,269.1h0M270.5,437.5h0M270.6,434.7h0M270.7,269.3h0M270.8,270.3h0M270.9,435h0M271.1,271.2h0M271.3,436.2h0M271.4,434.9h0M271.7,436.5h0M271.8,268.9h0M271.9,271.5h0M272,436.4h0M272.2,435.5h0M272.3,268.9h0M272.4,436.3h0M272.5,435h0M272.6,269.6h0M272.7,270.9h0M272.8,269.7h0M272.9,270.8h0M273,437.6h0M273.2,270.7h0M273.3,269.2h0M273.4,435.4h0M273.6,270.4h0M273.8,437.5h0M273.8,435.2h0M273.9,436.7h0M274.1,269h0M274.2,271h0M274.3,435.4h0M274.4,270h0M274.5,434.8h0M274.6,270.6h0M274.7,269h0M274.8,271h0M274.9,436.3h0M275,435.3h0M275.1,270.8h0M275.2,269.8h0M275.3,436.7h0M275.4,434.8h0M275.5,437.4h0M275.6,269.5h0M275.8,436h0M276,270.4h0M276,436.7h0M276.1,437.5h0M276.2,269.9h0M276.3,435.2h0M276.6,270.6h0M276.7,269.3h0M276.8,270.4h0M276.8,437.6h0M277.1,435h0M277.2,269h0M277.3,436.9h0M277.4,436h0M277.4,270.7h0M277.5,268.9h0M277.6,436.7h0M277.7,271.4h0M277.8,268.9h0M277.9,437.6h0M278,269.4h0M278,436.7h0M278.1,270.4h0M278.2,435.4h0M278.3,437.8h0M278.4,436.7h0M278.5,435.3h0M278.6,268.9h0M278.6,437.7h0M278.7,269.6h0M278.8,271.4h0M278.9,435.6h0M279.1,271.3h0M279.1,270.1h0M279.2,437.3h0M279.4,435h0M279.5,271.3h0M279.5,269.6h0M279.6,270.7h0M279.7,437.6h0M279.8,268.8h0M279.9,435.4h0M280,271.5h0M280.1,435.8h0M280.2,270.9h0M280.3,271.7h0M280.4,437.7h0M280.4,269.5h0M280.5,437.5h0M280.6,435.3h0M280.7,270.7h0M280.8,436.6h0M280.9,268.8h0M281,434.9h0M281.1,268.6h0M281.2,435.8h0M281.3,434.4h0M281.4,270.2h0M281.5,435.7h0M281.6,270.2h0M281.7,437.7h0M281.8,436.6h0M281.9,271.7h0M281.9,434.2h0M282.2,435.9h0M282.3,271h0M282.4,434.1h0M282.5,270.8h0M282.5,437.2h0M282.6,270.5h0M282.7,434.3h0M282.8,435.3h0M282.9,269.4h0M283.1,434.6h0M283.1,435.7h0M283.2,437.5h0M283.3,269.5h0M283.4,437.4h0M283.4,434.3h0M283.5,269.1h0M283.6,434.1h0M283.7,436.7h0M283.7,270.2h0M283.8,437h0M283.9,435.6h0M284,269.6h0M284.2,271.7h0M284.3,434.9h0M284.3,269.6h0M284.4,437.2h0M284.5,435.3h0M284.6,436.1h0M284.7,433.3h0M284.8,435.5h0M284.8,270.3h0M285,433.8h0M285.1,270.6h0M285.2,271.6h0M285.3,433h0M285.3,269.7h0M285.4,436.3h0M285.5,434.1h0M285.6,433h0M285.6,435.7h0M285.8,436.5h0M285.8,434.8h0M285.9,270.2h0M286,433.6h0M286,434.9h0M286.1,270.8h0M286.3,433.2h0M286.3,268.8h0M286.4,437.7h0M286.5,269h0M286.5,436.8h0M286.6,268.8h0M286.7,437.6h0M286.7,434.5h0M286.8,432.9h0M287.1,268.8h0M287.1,436.1h0M287.2,432.3h0M287.3,271.5h0M287.4,432.7h0M287.4,434.2h0M287.5,271.1h0M287.6,437.3h0M287.6,269.8h0M287.7,271.1h0M287.8,269.5h0M287.8,271.1h0M287.9,437.1h0M288,434.9h0M288,269.9h0M288.1,433.1h0M288.2,269.4h0M288.2,433.3h0M288.3,270.7h0M288.4,271.7h0M288.4,432.9h0M288.5,268.8h0M288.6,435.1h0M288.6,271.2h0M288.7,432.2h0M288.7,434.5h0M288.8,431.9h0M288.9,270.6h0M289,431.8h0M289.1,432.6h0M289.1,436.6h0M289.2,433.9h0M289.3,268.8h0M289.3,435.6h0M289.4,431.7h0M289.5,435.8h0M289.5,437.1h0M289.6,432.9h0M289.7,436.6h0M289.7,433.8h0M289.8,271.3h0M289.8,435.6h0M290,437h0M290,435.2h0M290.1,269.3h0M290.2,270.2h0M290.2,436.5h0M290.3,271.7h0M290.4,433.3h0M290.4,269.1h0M290.5,270.3h0M290.5,434.6h0M290.7,269.3h0M290.7,431.8h0M290.8,434.3h0M290.9,269.7h0M290.9,437.5h0M291,432.6h0M291.1,271.7h0M291.2,436.4h0M291.2,431.1h0M291.3,433.7h0M291.3,437.2h0M291.4,435.8h0M291.5,271.3h0M291.5,437.6h0M291.6,435.7h0M291.7,434.1h0M291.7,435.7h0M291.8,269.2h0M291.8,431.2h0M291.9,434.3h0M292,430.8h0M292,435h0M292.1,436.9h0M292.1,271.1h0M292.2,433.4h0M292.3,434.8h0M292.3,431.2h0M292.4,271h0M292.5,435.7h0M292.6,433h0M292.6,436h0M292.7,430.9h0M292.7,270.9h0M292.8,435.8h0M292.9,432.4h0M293,430.9h0M293,434.8h0M293.1,430.8h0M293.2,434.9h0M293.2,433.2h0M293.3,269.1h0M293.4,437.2h0M293.4,430.5h0M293.6,271.1h0M293.7,435.5h0M293.8,270.4h0M293.9,431.7h0M293.9,437.7h0M294,433.6h0M294,436.2h0M294.1,269.8h0M294.1,433.4h0M294.2,431.7h0M294.3,436.3h0M294.3,433.2h0M294.4,431.8h0M294.5,434.5h0M294.5,271.6h0M294.6,435.1h0M294.7,268.7h0M294.7,270.9h0M294.8,437.3h0M294.8,432.8h0M294.9,430.2h0M294.9,434.1h0M295,429.4h0M295,434.8h0M295.1,435.6h0M295.2,434.7h0M295.2,430.3h0M295.3,431.1h0M295.4,269.9h0M295.4,431.4h0M295.5,435.8h0M295.6,436.6h0M295.6,437.4h0M295.7,430.8h0M295.7,270.3h0M295.8,434.9h0M295.9,436.4h0M296,437.2h0M296,434h0M296.1,270.5h0M296.2,436.4h0M296.2,270.8h0M296.3,428.5h0M296.3,429.3h0M296.4,271.1h0M296.4,432.8h0M296.5,435.1h0M296.6,429.3h0M296.6,271.5h0M296.7,432h0M296.8,269.6h0M296.9,436.9h0M296.9,432.6h0M297,436.9h0M297.1,428.8h0M297.1,431.4h0M297.2,269.9h0M297.2,268.9h0M297.3,437.4h0M297.3,430.7h0M297.4,436.4h0M297.5,428.2h0M297.6,434h0M297.6,427.7h0M297.7,432.6h0M297.7,436.7h0M297.8,437.5h0M297.8,436.3h0M297.9,432.6h0M298,434.2h0M298,427.4h0M298.1,435.3h0M298.1,271.3h0M298.2,268.9h0M298.3,437.2h0M298.3,271h0M298.4,431.7h0M298.4,271.6h0M298.5,432.6h0M298.5,428.1h0M298.6,428.9h0M298.6,431.2h0M298.7,432.7h0M298.8,269.5h0M298.8,428.4h0M298.9,429.3h0M298.9,430.4h0M299,269.8h0M299.1,430.7h0M299.2,435.3h0M299.2,269h0M299.3,270.6h0M299.3,425.7h0M299.4,435.4h0M299.4,432.9h0M299.5,427.5h0M299.5,269.4h0M299.6,427.6h0M299.6,431.4h0M299.7,270.6h0M299.7,432h0M299.8,426.8h0M299.8,435h0M299.9,432.4h0M299.9,435.7h0M300,269.1h0M300,437.2h0M300.1,432h0M300.1,424.1h0M300.2,435.2h0M300.2,426.1h0M300.3,429.3h0M300.4,426.5h0M300.4,269.2h0M300.5,431.2h0M300.5,426.5h0M300.6,435.7h0M300.6,270h0M300.7,424.9h0M300.7,435.6h0M300.8,423.2h0M300.8,269h0M300.9,269.7h0M300.9,429.8h0M301,431.1h0M301,422.3h0M301,432.7h0M301.1,424.3h0M301.1,436.6h0M301.2,422.9h0M301.2,430.5h0M301.3,423.8h0M301.3,427.1h0M301.4,423.5h0M301.4,425.5h0M301.5,269.8h0M301.5,435h0M301.6,437.4h0M301.6,270.4h0M301.7,423.3h0M301.7,431.6h0M301.8,432.9h0M301.8,269.2h0M301.9,428.9h0M301.9,433.7h0M302,432.4h0M302,269.6h0M302.1,436.2h0M302.2,432.9h0M302.2,436.1h0M302.2,427.2h0M302.3,428.2h0M302.3,432.1h0M302.4,422.6h0M302.4,268.8h0M302.5,436.2h0M302.5,422.3h0M302.6,434.9h0M302.6,422.6h0M302.7,421h0M302.7,269.5h0M302.8,418.6h0M302.8,422.1h0M302.9,425.7h0M302.9,427.5h0M302.9,436.7h0M303,436h0M303,435.1h0M303.1,421.7h0M303.1,435.5h0M303.2,422.3h0M303.2,427.4h0M303.3,420h0M303.3,435.7h0M303.4,434.8h0M303.4,426.8h0M303.5,424.7h0M303.5,429.2h0M303.5,421.3h0M303.6,434.9h0M303.6,420.4h0M303.7,422.4h0M303.7,428h0M303.8,433.2h0M303.8,435.6h0M303.9,434.8h0M303.9,415h0M304,433.2h0M304,424.1h0M304,429.3h0M304.1,424.5h0M304.1,423.2h0M304.2,421.5h0M304.2,424.5h0M304.3,434h0M304.3,433.1h0M304.4,424.1h0M304.4,419.3h0M304.4,414.1h0M304.5,431h0M304.5,430h0M304.6,427.5h0M304.6,412.1h0M304.7,423.4h0M304.7,408.8h0M304.8,426.9h0M304.8,419.4h0M304.8,418.6h0M304.9,422.4h0M304.9,424.8h0M305,423.7h0M305,421.7h0M305.1,405.4h0M305.1,425.9h0M305.2,418.4h0M305.2,405.5h0M305.2,422h0M305.3,405.2h0M305.3,421.9h0M305.4,410.1h0M305.4,408.7h0M305.5,422h0M305.6,402.1h0M305.6,423.2h0M305.6,400.9h0M305.7,419.4h0M305.7,411h0M305.8,415.7h0M305.8,402.9h0M305.9,408.9h0M305.9,409.8h0M305.9,402.4h0M306,419.4h0M306,397.8h0M306.1,407.3h0M306.1,410.7h0M306.2,412.5h0M306.2,403.6h0M306.2,399.6h0M306.3,401.1h0M306.3,419h0M306.4,418.3h0M306.4,416.3h0M306.5,410h0M306.5,413.5h0M306.5,399.1h0M306.6,394.9h0M306.6,405.4h0M306.7,410.9h0M306.7,409.5h0M306.8,408.6h0M306.8,406.1h0M306.8,409.7h0M306.9,395.9h0M307,412.6h0M307,399.5h0M307,397.3h0M307.1,398.7h0M307.1,410.7h0M307.2,406.3h0M307.2,394.5h0M307.3,406.2h0M307.3,397.7h0M307.3,407h0M307.4,388.1h0M307.4,396.4h0M307.5,408.8h0M307.5,394.3h0M307.5,403.4h0M307.6,392.5h0M307.7,397.1h0M307.7,391.8h0M307.8,393.9h0M307.8,401.7h0M307.8,395h0M307.9,398.2h0M307.9,395.4h0M308,404.9h0M308,398.9h0M308,387.4h0M308.1,395.7h0M308.1,396.8h0M308.2,402.7h0M308.2,380.5h0M308.2,396.3h0M308.3,382.6h0M308.3,384.2h0M308.4,393.8h0M308.4,391.5h0M308.4,388h0M308.5,397.9h0M308.5,380.7h0M308.6,379.8h0M308.6,376.2h0M308.7,384.9h0M308.7,383.5h0M308.7,393.5h0M308.8,377.3h0M308.9,389.4h0M309,394.9h0M309,380.9h0M309.1,390.8h0M309.1,377.1h0M309.1,384.7h0M309.2,389.2h0M309.2,380.5h0M309.3,381.8h0M309.3,385h0M309.4,386.3h0M309.5,380.4h0M309.5,372.4h0M309.5,376.2h0M309.6,374.4h0M309.6,387.5h0M309.6,391.9h0M309.7,389.9h0M309.7,384.6h0M309.8,376.8h0M309.8,381.9h0M309.8,389.6h0M309.9,379.8h0M309.9,381.5h0M310,379.1h0M310,375.6h0M310.1,384.4h0M310.1,368h0M310.2,385.5h0M310.2,372.8h0M310.2,384.8h0M310.3,368.6h0M310.3,366.9h0M310.4,372.9h0M310.4,372.1h0M310.4,381.3h0M310.5,383.7h0M310.5,379.7h0M310.6,377.8h0M310.6,374.4h0M310.7,370.5h0M310.7,384.4h0M310.7,383.2h0M310.8,374h0M310.8,371.1h0M310.9,364.5h0M310.9,377h0M310.9,369.8h0M311,371.1h0M311,379.2h0M311.1,379.9h0M311.1,371.8h0M311.2,378.5h0M311.2,380.7h0M311.2,367.6h0M311.3,371.5h0M311.3,370.2h0M311.3,381.1h0M311.4,367.9h0M311.4,376.4h0M311.5,362.8h0M311.5,367.2h0M311.5,377.4h0M311.6,372.7h0M311.6,365.7h0M311.6,364.4h0M311.7,366.5h0M311.7,378.1h0M311.8,362h0M311.8,369.2h0M311.8,364.5h0M311.9,371.6h0M311.9,368.1h0M311.9,374.1h0M312,375.6h0M312,368.4h0M312.1,376.8h0M312.1,368h0M312.1,370.4h0M312.2,364.2h0M312.3,365.3h0M312.3,366.5h0M312.4,365.1h0M312.4,377.8h0M312.4,362h0M312.5,372.4h0M312.5,363.9h0M312.5,374.1h0M312.6,364.9h0M312.6,378.2h0M312.6,373.4h0M312.7,363h0M312.7,375h0M312.8,362.9h0M312.8,365.3h0M312.8,362.6h0M312.9,372.1h0M312.9,374.9h0M312.9,366.6h0M313,376.5h0M313,365.6h0M313.1,374.2h0M313.1,366.3h0M313.1,370.6h0M313.2,367.5h0M313.2,364.3h0M313.2,376.8h0M313.3,374.1h0M313.3,365.6h0M313.3,362.4h0M313.4,367.8h0M313.4,363.2h0M313.4,361.4h0M313.5,367.6h0M313.5,364.9h0M313.6,367.1h0M313.6,372.7h0M313.6,377h0M313.7,366h0M313.7,361.7h0M313.7,366.4h0M313.8,367.4h0M313.8,373.6h0M313.9,375.2h0M313.9,365.3h0M313.9,376h0M314,367.8h0M314.1,373.3h0M314.1,361.7h0M314.1,368.6h0M314.2,372.4h0M314.2,366.4h0M314.2,367.6h0M314.3,368.8h0M314.3,365.1h0M314.3,361.7h0M314.4,368.9h0M314.4,373.8h0M314.4,367h0M314.5,375.1h0M314.5,376.8h0M314.5,364.1h0M314.6,369.8h0M314.6,373.9h0M314.7,368.6h0M314.7,363.3h0M314.7,364.8h0M314.8,372.6h0M314.8,369.7h0M314.9,366.3h0M314.9,367.4h0M314.9,362.2h0M315,371h0M315,368.5h0M315,362.5h0M315.1,367.4h0M315.1,365.4h0M315.1,375.6h0M315.2,361.4h0M315.2,371.7h0M315.2,364.2h0M315.3,372h0M315.3,364.2h0M315.3,362.1h0M315.4,377.9h0M315.4,374.8h0M315.4,365.3h0M315.5,374.6h0M315.5,373.6h0M315.6,376.2h0M315.6,364.9h0M315.7,362.1h0M315.7,364.2h0M315.8,369.5h0M315.8,376.7h0M315.9,365.4h0M315.9,369.6h0M315.9,362.4h0M316,365.3h0M316,366.6h0M316,367.6h0M316.1,371h0M316.1,373.3h0M316.2,374h0M316.2,364.6h0M316.2,377.2h0M316.3,374.3h0M316.3,377.4h0M316.3,374.9h0M316.4,371.1h0M316.4,362.4h0M316.5,370h0M316.5,365.8h0M316.5,364.1h0M316.6,377.6h0M316.7,373h0M316.7,371.8h0M316.8,373.1h0M316.8,377.2h0M316.9,368.5h0M316.9,365.6h0M316.9,366.9h0M317,370.8h0M317,372.6h0M317,376.8h0M317.1,377.8h0M317.1,375.6h0M317.2,371.9h0M317.2,375.8h0M317.2,368.6h0M317.3,365.9h0M317.3,362.2h0M317.3,373.7h0M317.4,362.5h0M317.4,363.7h0M317.4,366h0M317.5,363.5h0M317.5,377.8h0M317.5,368.1h0M317.6,370.2h0M317.6,373.6h0M317.6,372.7h0M317.7,366.2h0M317.7,372.1h0M317.7,367.8h0M317.8,371.7h0M317.8,375.5h0M317.9,372.2h0M317.9,361.9h0M317.9,370.4h0M318,362.3h0M318,367.6h0M301.6,277h0M301.5,281.8h0" stroke="#ff0000" stroke-width="7.6" stroke-linecap="round" fill="none"/>
<rect x="46" y="426" width="222" height="12" fill="#000"/>
<rect x="40" y="420" width="225" height="14" fill="#000"/>
<rect x="41" y="421" width="223" height="12" fill="#fff"/>
<circle cx="68.5" cy="426.3" r="3.7" fill="#ff0000"/>
<clipPath id="lc0_244"><rect x="41" y="421" width="223" height="12"/></clipPath>
<g font-size="4.95" font-weight="bold"><text x="96.3" y="428.2">K1:VIS-SRM_F0_DAMP_GAS_IN1_DQ : K1:VIS-SRM_F0_TEST_GAS_IN2</text></g>
<rect x="1" y="249" width="144" height="20" fill="#000"/>
<rect x="3" y="246" width="141" height="22" fill="#000"/>
<rect x="4" y="247" width="139" height="20" fill="#fff"/>
<rect x="5" y="248" width="137" height="18" fill="#f2f2f2"/>
<text x="11.6" y="260.8" font-size="16.9" font-weight="bold" fill="#000">F0-&gt; F0 [Phase]</text>
<text x="6.5" y="476.7" font-size="8.85" font-weight="bold" fill="#000">T0=28/03/2026 13:18:09</text>
<text x="167.7" y="476.7" font-size="8.85" font-weight="bold" text-anchor="middle">Avg=3</text>
<text x="328" y="476.7" font-size="8.85" font-weight="bold" fill="#000" text-anchor="end">BW=0.0117187</text>
<path d="M407.5,268V437M489.5,268V437M570.5,268V437M652.5,268V437M399.5,268V437M404.5,268V437M432.5,268V437M446.5,268V437M456.5,268V437M464.5,268V437M471.5,268V437M476.5,268V437M481.5,268V437M485.5,268V437M513.5,268V437M528.5,268V437M538.5,268V437M546.5,268V437M552.5,268V437M558.5,268V437M562.5,268V437M567.5,268V437M595.5,268V437M609.5,268V437M619.5,268V437M627.5,268V437M634.5,268V437M639.5,268V437M644.5,268V437M648.5,268V437M676.5,268V437M397,286.5H680M397,315.5H680M397,343.5H680M397,372.5H680M397,400.5H680M397,429.5H680" stroke="#000" stroke-width="1" stroke-dasharray="1,2" fill="none" shape-rendering="crispEdges"/>
<rect x="395.5" y="268.5" width="285" height="169" fill="none" stroke="#000" stroke-width="1" shape-rendering="crispEdges"/>
<path d="M407.5,437v-6M407.5,269v6M489.5,437v-6M489.5,269v6M570.5,437v-6M570.5,269v6M652.5,437v-6M652.5,269v6M399.5,437v-3M399.5,269v3M404.5,437v-3M404.5,269v3M432.5,437v-3M432.5,269v3M446.5,437v-3M446.5,269v3M456.5,437v-3M456.5,269v3M464.5,437v-3M464.5,269v3M471.5,437v-3M471.5,269v3M476.5,437v-3M476.5,269v3M481.5,437v-3M481.5,269v3M485.5,437v-3M485.5,269v3M513.5,437v-3M513.5,269v3M528.5,437v-3M528.5,269v3M538.5,437v-3M538.5,269v3M546.5,437v-3M546.5,269v3M552.5,437v-3M552.5,269v3M558.5,437v-3M558.5,269v3M562.5,437v-3M562.5,269v3M567.5,437v-3M567.5,269v3M595.5,437v-3M595.5,269v3M609.5,437v-3M609.5,269v3M619.5,437v-3M619.5,269v3M627.5,437v-3M627.5,269v3M634.5,437v-3M634.5,269v3M639.5,437v-3M639.5,269v3M644.5,437v-3M644.5,269v3M648.5,437v-3M648.5,269v3M676.5,437v-3M676.5,269v3M396,436.5h3M680,436.5h-4M396,429.5h6M680,429.5h-7M396,421.5h3M680,421.5h-4M396,414.5h3M680,414.5h-4M396,407.5h3M680,407.5h-4M396,400.5h6M680,400.5h-7M396,393.5h3M680,393.5h-4M396,386.5h3M680,386.5h-4M396,379.5h3M680,379.5h-4M396,372.5h6M680,372.5h-7M396,365.5h3M680,365.5h-4M396,357.5h3M680,357.5h-4M396,350.5h3M680,350.5h-4M396,343.5h6M680,343.5h-7M396,336.5h3M680,336.5h-4M396,329.5h3M680,329.5h-4M396,322.5h3M680,322.5h-4M396,315.5h6M680,315.5h-7M396,308.5h3M680,308.5h-4M396,301.5h3M680,301.5h-4M396,293.5h3M680,293.5h-4M396,286.5h6M680,286.5h-7M396,279.5h3M680,279.5h-4M396,272.5h3M680,272.5h-4" stroke="#000" stroke-width="1" fill="none" shape-rendering="crispEdges"/>
<text x="392.8" y="289.9" font-size="9" font-weight="bold" text-anchor="end"><tspan font-weight="normal">−</tspan>20</text>
<text x="392.8" y="318.4" font-size="9" font-weight="bold" text-anchor="end"><tspan font-weight="normal">−</tspan>40</text>
<text x="392.8" y="346.8" font-size="9" font-weight="bold" text-anchor="end"><tspan font-weight="normal">−</tspan>60</text>
<text x="392.8" y="375.3" font-size="9" font-weight="bold" text-anchor="end"><tspan font-weight="normal">−</tspan>80</text>
<text x="392.8" y="403.7" font-size="9" font-weight="bold" text-anchor="end"><tspan font-weight="normal">−</tspan>100</text>
<text x="392.8" y="432.2" font-size="9" font-weight="bold" text-anchor="end"><tspan font-weight="normal">−</tspan>120</text>
<text x="408.0" y="448.8" font-size="9" font-weight="bold" text-anchor="end">10</text>
<text x="408.2" y="444.4" font-size="6" font-weight="bold"><tspan font-weight="normal">−</tspan>2</text>
<text x="489.5" y="448.8" font-size="9" font-weight="bold" text-anchor="end">10</text>
<text x="489.7" y="444.4" font-size="6" font-weight="bold"><tspan font-weight="normal">−</tspan>1</text>
<text x="571.3" y="448.6" font-size="9" font-weight="bold" text-anchor="middle">1</text>
<text x="652.8" y="448.6" font-size="9" font-weight="bold" text-anchor="middle">10</text>
<text x="536.5" y="461.6" font-size="8.9" font-weight="bold" text-anchor="middle">Frequency (Hz)</text>
<text transform="translate(374.4,352.5) rotate(-90)" font-size="9.9" font-weight="bold" text-anchor="middle">Magnitude (dB)</text>
<clipPath id="pc362_244"><rect x="395" y="268" width="286" height="170"/></clipPath>
<g clip-path="url(#pc362_244)">
<path d="M426.5,367V369M433.5,375V377M505.5,331V333M510.5,325V327M511.5,323V325M514.5,320V322M517.5,316V318M518.5,312V316M519.5,307V312M520.5,302V307M521.5,296V302M522.5,291V296M523.5,286V291M524.5,283V286M525.5,285V289M526.5,289V295M527.5,295V300M528.5,300V304M529.5,304V306M533.5,309V311M534.5,311V313M536.5,313V315M538.5,315V317M540.5,317V319M542.5,320V322M543.5,322V324M544.5,323V325M545.5,325V329M546.5,329V334M547.5,330V336M548.5,318V330M549.5,307V318M550.5,301V307M551.5,298V301M552.5,300V303M553.5,303V305M555.5,306V308M557.5,307V309M563.5,306V308M564.5,305V307M567.5,302V304M568.5,300V302M569.5,299V301M570.5,297V299M571.5,295V298M572.5,294V296M573.5,293V295M574.5,294V297M575.5,297V299M576.5,299V301M577.5,301V304M578.5,304V307M579.5,307V309M580.5,309V312M581.5,312V315M582.5,314V316M583.5,316V318M584.5,317V319M585.5,318V320M586.5,320V322M587.5,321V323M588.5,322V324M589.5,323V325M590.5,324V326M591.5,325V327M592.5,326V328M594.5,329V331M595.5,330V332M596.5,331V333M597.5,332V334M599.5,333V335M600.5,334V337M601.5,335V338M602.5,336V338M603.5,337V339M604.5,338V341M605.5,339V341M606.5,340V342M607.5,341V343M608.5,341V343M609.5,342V344M610.5,343V345M611.5,344V346M612.5,345V347M613.5,346V348M614.5,346V348M615.5,348V350M616.5,348V350M617.5,349V352M618.5,350V352M619.5,350V353M620.5,351V353M621.5,352V355M622.5,353V355M623.5,354V356M624.5,354V357M625.5,355V357M626.5,355V358M628.5,357V360M629.5,358V361M630.5,359V361M631.5,359V362M632.5,360V364M633.5,361V365M634.5,360V366M635.5,361V366M636.5,361V368M637.5,362V367M638.5,362V370M639.5,361V370M640.5,364V371M641.5,363V373M642.5,363V372M643.5,365V373M644.5,366V374M645.5,366V375M646.5,365V375M647.5,367V375M648.5,366V376M649.5,367V377M650.5,367V380M651.5,369V381M652.5,369V381M653.5,370V382M654.5,371V387M655.5,371V388M656.5,372V387M657.5,374V389M658.5,373V392M659.5,372V391M660.5,372V395M661.5,372V394M662.5,376V395M663.5,378V401M664.5,378V402M665.5,371V400M666.5,372V401M667.5,376V399M668.5,376V402M669.5,370V406M670.5,376V400M671.5,376V403M672.5,370V403M673.5,373V403M674.5,372V402M675.5,373V409M676.5,375V406M566,304.5H567M554,305.5H555M565,305.5H566M530,306.5H531M531,307.5H532M556,307.5H557M562,307.5H563M532,308.5H533M558,308.5H562M535,313.5H536M537,315.5H538M539,317.5H540M516,318.5H517M515,319.5H516M541,319.5H542M512,322.5H514M509,327.5H510M508,328.5H509M593,328.5H594M507,329.5H508M506,330.5H507M503,333.5H505M598,333.5H599M502,334.5H503M501,335.5H502M500,336.5H501M499,337.5H500M497,338.5H499M495,339.5H497M494,340.5H495M493,341.5H494M492,342.5H493M490,343.5H492M489,344.5H490M488,345.5H489M487,346.5H488M486,347.5H487M484,348.5H486M483,349.5H484M482,350.5H483M481,351.5H482M399,352.5H401M479,352.5H481M401,353.5H403M476,353.5H479M403,354.5H405M475,354.5H476M405,355.5H407M474,355.5H475M407,356.5H409M473,356.5H474M409,357.5H411M472,357.5H473M627,357.5H628M411,358.5H413M471,358.5H472M413,359.5H415M470,359.5H471M415,360.5H417M469,360.5H470M417,361.5H419M468,361.5H469M419,362.5H421M467,362.5H468M421,363.5H423M465,363.5H467M423,364.5H424M463,364.5H465M424,365.5H425M462,365.5H463M425,366.5H426M460,366.5H462M458,367.5H460M456,368.5H458M427,369.5H428M455,369.5H456M428,370.5H429M454,370.5H455M429,371.5H430M453,371.5H454M430,372.5H431M452,372.5H453M431,373.5H432M451,373.5H452M432,374.5H433M450,374.5H451M449,375.5H450M447,376.5H449M434,377.5H435M444,377.5H447M435,378.5H436M442,378.5H444M436,379.5H437M439,379.5H442M437,380.5H439" stroke="#0000ff" stroke-width="1" fill="none" shape-rendering="crispEdges"/>
<path d="M424.5,358V360M427.5,362V364M430.5,366V368M433.5,370V372M436.5,374V376M457.5,362V364M458.5,360V362M459.5,358V360M460.5,356V358M461.5,354V356M463.5,354V356M464.5,356V358M466.5,359V361M468.5,359V361M471.5,355V357M481.5,352V354M505.5,331V333M510.5,325V327M511.5,323V325M514.5,320V322M517.5,316V318M518.5,312V316M519.5,309V312M520.5,304V309M521.5,299V304M522.5,294V299M523.5,291V294M524.5,289V291M525.5,288V291M526.5,291V295M527.5,295V298M528.5,298V301M529.5,301V303M531.5,304V306M533.5,307V309M536.5,310V312M538.5,312V314M540.5,313V315M542.5,314V316M548.5,316V318M552.5,315V318M553.5,314V317M554.5,315V318M555.5,311V315M556.5,310V312M557.5,309V311M559.5,310V312M560.5,310V312M561.5,309V311M562.5,308V310M567.5,302V304M568.5,301V303M569.5,299V302M570.5,298V300M571.5,297V299M572.5,295V297M573.5,294V297M574.5,296V299M575.5,298V301M576.5,300V303M577.5,303V306M578.5,305V309M579.5,308V311M580.5,311V314M581.5,313V316M582.5,315V317M583.5,316V319M584.5,318V320M585.5,320V322M586.5,321V323M587.5,322V324M589.5,325V327M590.5,326V328M591.5,327V329M592.5,328V330M593.5,329V331M594.5,330V332M595.5,331V333M596.5,332V334M597.5,333V335M599.5,334V336M600.5,335V337M602.5,337V339M603.5,338V340M604.5,339V341M605.5,340V342M606.5,340V343M607.5,341V344M609.5,343V345M610.5,344V346M611.5,345V347M612.5,346V348M613.5,346V349M614.5,347V349M615.5,348V350M616.5,349V351M617.5,350V352M618.5,351V353M619.5,351V353M620.5,352V354M621.5,352V355M622.5,353V356M623.5,355V357M624.5,355V358M625.5,356V358M626.5,356V359M627.5,357V360M628.5,358V361M629.5,359V362M630.5,359V363M631.5,360V363M632.5,360V364M633.5,361V365M634.5,362V368M635.5,361V367M636.5,362V369M637.5,362V370M638.5,363V373M639.5,363V372M640.5,363V371M641.5,363V371M642.5,362V373M643.5,364V375M644.5,365V376M645.5,365V375M646.5,365V378M647.5,365V377M648.5,366V379M649.5,365V382M650.5,368V385M651.5,369V388M652.5,368V388M653.5,365V389M654.5,369V390M655.5,368V392M656.5,368V388M657.5,369V399M658.5,370V395M659.5,370V399M660.5,373V401M661.5,369V396M662.5,372V409M663.5,368V409M664.5,373V410M665.5,370V414M666.5,371V409M667.5,366V401M668.5,372V411M669.5,369V405M670.5,369V411M671.5,360V417M672.5,369V412M673.5,369V416M674.5,374V414M675.5,364V413M676.5,371V407M530,303.5H531M566,304.5H567M565,305.5H566M532,306.5H533M564,306.5H565M563,307.5H564M534,309.5H535M535,310.5H536M558,310.5H559M537,311.5H538M539,313.5H540M541,314.5H542M543,315.5H545M545,316.5H548M549,317.5H551M516,318.5H517M551,318.5H552M515,319.5H516M512,322.5H514M588,324.5H589M509,327.5H510M508,328.5H509M507,329.5H508M506,330.5H507M503,333.5H505M502,334.5H503M598,334.5H599M501,335.5H502M500,336.5H501M499,337.5H500M601,337.5H602M497,338.5H499M495,339.5H497M494,340.5H495M399,341.5H400M493,341.5H494M400,342.5H402M492,342.5H493M402,343.5H403M490,343.5H492M608,343.5H609M403,344.5H405M489,344.5H490M405,345.5H406M488,345.5H489M406,346.5H408M487,346.5H488M408,347.5H409M486,347.5H487M409,348.5H411M485,348.5H486M411,349.5H412M484,349.5H485M412,350.5H414M483,350.5H484M414,351.5H415M482,351.5H483M415,352.5H417M417,353.5H418M462,353.5H463M475,353.5H479M418,354.5H420M472,354.5H475M479,354.5H481M420,355.5H421M421,356.5H423M423,357.5H424M470,357.5H471M465,358.5H466M469,358.5H470M425,360.5H426M426,361.5H427M467,361.5H468M428,364.5H429M456,364.5H457M429,365.5H430M454,365.5H456M453,366.5H454M451,367.5H453M431,368.5H432M449,368.5H451M432,369.5H433M448,369.5H449M446,370.5H448M445,371.5H446M434,372.5H435M443,372.5H445M435,373.5H436M441,373.5H443M440,374.5H441M438,375.5H440M437,376.5H438" stroke="#ff0000" stroke-width="1" fill="none" shape-rendering="crispEdges"/>
</g>
<rect x="408" y="417" width="268" height="21" fill="#000"/>
<rect x="402" y="411" width="271" height="23" fill="#000"/>
<rect x="403" y="412" width="269" height="21" fill="#fff"/>
<path d="M412,416.5H459" stroke="#ff0000" stroke-width="1" shape-rendering="crispEdges"/>
<path d="M412,427.5H459" stroke="#0000ff" stroke-width="1" shape-rendering="crispEdges"/>
<clipPath id="lc362_244"><rect x="403" y="412" width="269" height="21"/></clipPath>
<g clip-path="url(#lc362_244)" font-size="5" font-weight="bold"><text x="468.7" y="418.4">K1:VIS-SRM_F1_DAMP_GAS_IN1_DQ : K1:VIS-SRM_F0_TEST_GAS_IN2</text><text x="468.7" y="429.4">K1:VIS-SRM_F1_DAMP_GAS_IN1_DQ(REF1) : K1:VIS-SRM_F0_TEST_GAS_IN2(REF1)</text></g>
<rect x="363" y="249" width="72" height="17" fill="#000"/>
<rect x="365" y="246" width="69" height="19" fill="#000"/>
<rect x="366" y="247" width="67" height="17" fill="#fff"/>
<rect x="367" y="248" width="65" height="15" fill="#f2f2f2"/>
<text x="373.3" y="260.55" font-size="14.75" font-weight="bold" fill="#000">F0-&gt; F1</text>
<text x="368.5" y="476.7" font-size="8.85" font-weight="bold" fill="#ff0000">*T0=28/03/2026 13:18:09</text>
<text x="529.7" y="476.7" font-size="8.85" font-weight="bold" text-anchor="middle">Avg=3</text>
<text x="690" y="476.7" font-size="8.85" font-weight="bold" fill="#ff0000" text-anchor="end">*BW=0.0117187</text>
<path d="M769.5,268V437M851.5,268V437M932.5,268V437M1014.5,268V437M761.5,268V437M766.5,268V437M794.5,268V437M808.5,268V437M818.5,268V437M826.5,268V437M833.5,268V437M838.5,268V437M843.5,268V437M847.5,268V437M875.5,268V437M890.5,268V437M900.5,268V437M908.5,268V437M914.5,268V437M920.5,268V437M924.5,268V437M929.5,268V437M957.5,268V437M971.5,268V437M981.5,268V437M989.5,268V437M996.5,268V437M1001.5,268V437M1006.5,268V437M1010.5,268V437M1038.5,268V437M759,284.5H1042M759,306.5H1042M759,327.5H1042M759,349.5H1042M759,371.5H1042M759,392.5H1042M759,414.5H1042M759,435.5H1042" stroke="#000" stroke-width="1" stroke-dasharray="1,2" fill="none" shape-rendering="crispEdges"/>
<rect x="757.5" y="268.5" width="285" height="169" fill="none" stroke="#000" stroke-width="1" shape-rendering="crispEdges"/>
<path d="M769.5,437v-6M769.5,269v6M851.5,437v-6M851.5,269v6M932.5,437v-6M932.5,269v6M1014.5,437v-6M1014.5,269v6M761.5,437v-3M761.5,269v3M766.5,437v-3M766.5,269v3M794.5,437v-3M794.5,269v3M808.5,437v-3M808.5,269v3M818.5,437v-3M818.5,269v3M826.5,437v-3M826.5,269v3M833.5,437v-3M833.5,269v3M838.5,437v-3M838.5,269v3M843.5,437v-3M843.5,269v3M847.5,437v-3M847.5,269v3M875.5,437v-3M875.5,269v3M890.5,437v-3M890.5,269v3M900.5,437v-3M900.5,269v3M908.5,437v-3M908.5,269v3M914.5,437v-3M914.5,269v3M920.5,437v-3M920.5,269v3M924.5,437v-3M924.5,269v3M929.5,437v-3M929.5,269v3M957.5,437v-3M957.5,269v3M971.5,437v-3M971.5,269v3M981.5,437v-3M981.5,269v3M989.5,437v-3M989.5,269v3M996.5,437v-3M996.5,269v3M1001.5,437v-3M1001.5,269v3M1006.5,437v-3M1006.5,269v3M1010.5,437v-3M1010.5,269v3M1038.5,437v-3M1038.5,269v3M758,435.5h6M1042,435.5h-7M758,430.5h3M1042,430.5h-4M758,425.5h3M1042,425.5h-4M758,419.5h3M1042,419.5h-4M758,414.5h6M1042,414.5h-7M758,408.5h3M1042,408.5h-4M758,403.5h3M1042,403.5h-4M758,398.5h3M1042,398.5h-4M758,392.5h6M1042,392.5h-7M758,387.5h3M1042,387.5h-4M758,381.5h3M1042,381.5h-4M758,376.5h3M1042,376.5h-4M758,371.5h6M1042,371.5h-7M758,365.5h3M1042,365.5h-4M758,360.5h3M1042,360.5h-4M758,354.5h3M1042,354.5h-4M758,349.5h6M1042,349.5h-7M758,344.5h3M1042,344.5h-4M758,338.5h3M1042,338.5h-4M758,333.5h3M1042,333.5h-4M758,327.5h6M1042,327.5h-7M758,322.5h3M1042,322.5h-4M758,317.5h3M1042,317.5h-4M758,311.5h3M1042,311.5h-4M758,306.5h6M1042,306.5h-7M758,300.5h3M1042,300.5h-4M758,295.5h3M1042,295.5h-4M758,290.5h3M1042,290.5h-4M758,284.5h6M1042,284.5h-7M758,279.5h3M1042,279.5h-4M758,273.5h3M1042,273.5h-4" stroke="#000" stroke-width="1" fill="none" shape-rendering="crispEdges"/>
<text x="754.8" y="287.7" font-size="9" font-weight="bold" text-anchor="end"><tspan font-weight="normal">−</tspan>20</text>
<text x="754.8" y="309.3" font-size="9" font-weight="bold" text-anchor="end"><tspan font-weight="normal">−</tspan>40</text>
<text x="754.8" y="330.9" font-size="9" font-weight="bold" text-anchor="end"><tspan font-weight="normal">−</tspan>60</text>
<text x="754.8" y="352.5" font-size="9" font-weight="bold" text-anchor="end"><tspan font-weight="normal">−</tspan>80</text>
<text x="754.8" y="374.1" font-size="9" font-weight="bold" text-anchor="end"><tspan font-weight="normal">−</tspan>100</text>
<text x="754.8" y="395.7" font-size="9" font-weight="bold" text-anchor="end"><tspan font-weight="normal">−</tspan>120</text>
<text x="754.8" y="417.3" font-size="9" font-weight="bold" text-anchor="end"><tspan font-weight="normal">−</tspan>140</text>
<text x="754.8" y="438.9" font-size="9" font-weight="bold" text-anchor="end"><tspan font-weight="normal">−</tspan>160</text>
<text x="770.0" y="448.8" font-size="9" font-weight="bold" text-anchor="end">10</text>
<text x="770.2" y="444.4" font-size="6" font-weight="bold"><tspan font-weight="normal">−</tspan>2</text>
<text x="851.5" y="448.8" font-size="9" font-weight="bold" text-anchor="end">10</text>
<text x="851.7" y="444.4" font-size="6" font-weight="bold"><tspan font-weight="normal">−</tspan>1</text>
<text x="933.3" y="448.6" font-size="9" font-weight="bold" text-anchor="middle">1</text>
<text x="1014.8" y="448.6" font-size="9" font-weight="bold" text-anchor="middle">10</text>
<text x="898.5" y="461.6" font-size="8.9" font-weight="bold" text-anchor="middle">Frequency (Hz)</text>
<text transform="translate(736.4,352.5) rotate(-90)" font-size="9.9" font-weight="bold" text-anchor="middle">Magnitude (dB)</text>
<clipPath id="pc724_244"><rect x="757" y="268" width="286" height="170"/></clipPath>
<g clip-path="url(#pc724_244)">
<path d="M819.5,337V339M821.5,340V342M823.5,343V345M835.5,345V347M836.5,347V349M837.5,349V351M838.5,350V352M839.5,347V350M840.5,345V347M841.5,342V345M842.5,340V342M850.5,334V336M867.5,320V323M868.5,318V320M876.5,313V315M877.5,311V313M879.5,308V310M880.5,305V308M881.5,301V305M882.5,298V301M883.5,294V298M884.5,290V294M885.5,286V290M886.5,284V286M887.5,284V287M888.5,287V292M889.5,292V296M892.5,298V300M904.5,300V302M905.5,299V301M908.5,296V298M909.5,294V296M910.5,292V294M911.5,288V292M912.5,284V288M913.5,283V287M914.5,287V292M915.5,292V295M916.5,295V297M917.5,297V301M918.5,300V302M919.5,302V304M921.5,304V306M922.5,305V307M924.5,306V308M931.5,306V308M932.5,305V307M934.5,304V306M935.5,305V307M936.5,306V308M937.5,308V311M938.5,311V314M939.5,314V317M940.5,316V321M941.5,318V321M942.5,319V323M943.5,322V327M944.5,325V329M945.5,325V329M946.5,326V332M947.5,330V339M948.5,333V344M949.5,332V350M950.5,339V351M951.5,340V349M952.5,337V351M953.5,339V349M954.5,341V348M955.5,344V357M956.5,341V360M957.5,340V357M958.5,346V363M959.5,346V355M960.5,345V359M961.5,349V363M962.5,348V359M963.5,354V370M964.5,345V362M965.5,346V361M966.5,349V371M967.5,351V368M968.5,351V371M969.5,350V373M970.5,349V378M971.5,359V374M972.5,352V378M973.5,355V376M974.5,357V373M975.5,356V378M976.5,350V377M977.5,353V373M978.5,358V377M979.5,357V379M980.5,360V380M981.5,356V379M982.5,359V388M983.5,359V392M984.5,359V384M985.5,358V383M986.5,363V386M987.5,364V395M988.5,357V387M989.5,362V392M990.5,361V393M991.5,358V386M992.5,364V395M993.5,359V393M994.5,363V396M995.5,363V399M996.5,367V412M997.5,364V391M998.5,357V401M999.5,366V408M1000.5,368V410M1001.5,363V400M1002.5,372V400M1003.5,368V393M1004.5,365V394M1005.5,364V400M1006.5,360V398M1007.5,368V396M1008.5,364V398M1009.5,360V405M1010.5,361V410M1011.5,364V400M1012.5,360V403M1013.5,364V406M1014.5,369V414M1015.5,364V412M1016.5,365V399M1017.5,357V398M1018.5,359V403M1019.5,357V403M1020.5,361V407M1021.5,372V407M1022.5,358V400M1023.5,364V409M1024.5,363V401M1025.5,363V404M1026.5,366V397M1027.5,358V402M1028.5,366V401M1029.5,361V406M1030.5,356V397M1031.5,362V399M1032.5,362V402M1033.5,361V402M1034.5,364V406M1035.5,362V411M1036.5,362V400M1037.5,362V401M1038.5,355V401M890,296.5H891M891,297.5H892M907,298.5H908M906,299.5H907M893,300.5H895M895,301.5H897M901,301.5H904M897,302.5H901M920,304.5H921M933,305.5H934M923,306.5H924M925,307.5H931M878,310.5H879M873,315.5H876M872,316.5H873M870,317.5H872M869,318.5H870M865,323.5H867M864,324.5H865M863,325.5H864M862,326.5H863M861,327.5H862M860,328.5H861M858,329.5H860M856,330.5H858M761,331.5H762M854,331.5H856M762,332.5H764M852,332.5H854M764,333.5H765M851,333.5H852M765,334.5H766M766,335.5H768M768,336.5H769M815,336.5H819M848,336.5H850M769,337.5H771M809,337.5H815M845,337.5H848M771,338.5H772M805,338.5H809M844,338.5H845M772,339.5H774M801,339.5H805M820,339.5H821M843,339.5H844M774,340.5H775M799,340.5H801M775,341.5H776M797,341.5H799M776,342.5H778M795,342.5H797M822,342.5H823M829,342.5H831M778,343.5H779M793,343.5H795M827,343.5H829M831,343.5H833M779,344.5H781M792,344.5H793M825,344.5H827M833,344.5H835M781,345.5H782M790,345.5H792M824,345.5H825M782,346.5H783M788,346.5H790M783,347.5H785M786,347.5H788M785,348.5H786" stroke="#0000ff" stroke-width="1" fill="none" shape-rendering="crispEdges"/>
<path d="M801.5,315V317M804.5,319V321M808.5,324V326M819.5,329V331M820.5,327V329M821.5,325V327M822.5,323V325M823.5,321V323M825.5,318V320M828.5,314V316M834.5,316V318M835.5,318V322M836.5,322V326M837.5,326V330M838.5,330V332M839.5,332V334M841.5,335V337M842.5,336V338M843.5,333V336M844.5,330V333M845.5,328V330M846.5,330V332M847.5,332V334M848.5,334V336M849.5,335V338M850.5,331V335M851.5,328V331M852.5,326V328M861.5,324V326M862.5,326V329M863.5,329V331M865.5,331V333M866.5,333V335M867.5,328V336M868.5,320V328M869.5,318V320M872.5,318V320M879.5,314V316M880.5,311V314M881.5,308V311M882.5,305V308M883.5,302V305M884.5,300V302M885.5,298V300M886.5,296V298M887.5,295V297M888.5,297V300M889.5,300V302M890.5,302V304M892.5,305V307M900.5,310V312M905.5,309V311M907.5,309V311M908.5,308V310M909.5,308V310M911.5,306V308M912.5,304V306M913.5,302V304M914.5,299V302M915.5,299V306M916.5,306V311M917.5,301V312M918.5,298V301M919.5,297V303M920.5,303V308M921.5,307V311M922.5,301V307M924.5,299V301M925.5,300V303M926.5,303V305M927.5,305V307M929.5,306V308M934.5,306V308M935.5,308V310M936.5,309V312M937.5,311V314M938.5,314V317M939.5,316V319M940.5,319V322M941.5,319V324M942.5,321V324M943.5,322V327M944.5,325V330M945.5,325V332M946.5,328V336M947.5,331V339M948.5,332V341M949.5,335V347M950.5,340V350M951.5,339V351M952.5,339V355M953.5,338V358M954.5,342V360M955.5,341V353M956.5,343V356M957.5,340V361M958.5,337V357M959.5,343V364M960.5,338V357M961.5,344V369M962.5,342V365M963.5,338V368M964.5,343V364M965.5,349V370M966.5,347V365M967.5,348V367M968.5,343V379M969.5,355V380M970.5,347V378M971.5,350V372M972.5,346V371M973.5,348V374M974.5,347V375M975.5,354V369M976.5,350V379M977.5,351V377M978.5,348V375M979.5,351V371M980.5,348V375M981.5,352V370M982.5,352V375M983.5,354V378M984.5,356V378M985.5,350V374M986.5,356V374M987.5,354V374M988.5,359V376M989.5,358V377M990.5,359V380M991.5,353V374M992.5,357V376M993.5,353V380M994.5,355V384M995.5,353V380M996.5,352V382M997.5,352V377M998.5,355V378M999.5,355V374M1000.5,352V381M1001.5,353V376M1002.5,355V382M1003.5,349V374M1004.5,355V380M1005.5,357V385M1006.5,353V383M1007.5,349V377M1008.5,353V387M1009.5,351V378M1010.5,353V380M1011.5,354V385M1012.5,355V384M1013.5,352V376M1014.5,357V382M1015.5,353V383M1016.5,353V383M1017.5,352V384M1018.5,353V386M1019.5,350V378M1020.5,348V382M1021.5,351V389M1022.5,354V379M1023.5,353V383M1024.5,349V382M1025.5,351V377M1026.5,353V383M1027.5,350V380M1028.5,353V379M1029.5,347V375M1030.5,347V388M1031.5,349V377M1032.5,346V380M1033.5,346V376M1034.5,349V377M1035.5,348V378M1036.5,348V373M1037.5,350V374M1038.5,348V385M923,300.5H924M891,304.5H892M928,306.5H929M933,306.5H934M893,307.5H895M930,307.5H933M895,308.5H896M910,308.5H911M896,309.5H897M906,309.5H907M784,310.5H788M897,310.5H900M904,310.5H905M780,311.5H784M788,311.5H793M901,311.5H904M777,312.5H780M793,312.5H797M774,313.5H777M797,313.5H800M829,313.5H830M770,314.5H774M800,314.5H801M830,314.5H832M767,315.5H770M832,315.5H834M763,316.5H767M827,316.5H828M874,316.5H876M878,316.5H879M761,317.5H763M802,317.5H803M826,317.5H827M870,317.5H871M873,317.5H874M876,317.5H878M803,318.5H804M871,318.5H872M824,320.5H825M805,321.5H806M806,322.5H807M807,323.5H808M854,324.5H858M853,325.5H854M858,325.5H861M809,326.5H810M810,327.5H812M812,328.5H814M814,329.5H816M816,330.5H818M864,330.5H865M818,331.5H819M840,334.5H841" stroke="#ff0000" stroke-width="1" fill="none" shape-rendering="crispEdges"/>
</g>
<rect x="770" y="417" width="268" height="21" fill="#000"/>
<rect x="764" y="411" width="271" height="23" fill="#000"/>
<rect x="765" y="412" width="269" height="21" fill="#fff"/>
<path d="M774,416.5H821" stroke="#ff0000" stroke-width="1" shape-rendering="crispEdges"/>
<path d="M774,427.5H821" stroke="#0000ff" stroke-width="1" shape-rendering="crispEdges"/>
<clipPath id="lc724_244"><rect x="765" y="412" width="269" height="21"/></clipPath>
<g clip-path="url(#lc724_244)" font-size="5" font-weight="bold"><text x="830.7" y="418.4">K1:VIS-SRM_BF_DAMP_GAS_IN1_DQ : K1:VIS-SRM_F0_TEST_GAS_IN2</text><text x="830.7" y="429.4">K1:VIS-SRM_BF_DAMP_GAS_IN1_DQ(REF2) : K1:VIS-SRM_F0_TEST_GAS_IN2(REF2)</text></g>
<rect x="725" y="249" width="77" height="17" fill="#000"/>
<rect x="727" y="246" width="74" height="19" fill="#000"/>
<rect x="728" y="247" width="72" height="17" fill="#fff"/>
<rect x="729" y="248" width="70" height="15" fill="#f2f2f2"/>
<text x="735.3" y="260.55" font-size="14.75" font-weight="bold" fill="#000">F0-&gt; BF</text>
<text x="730.5" y="476.7" font-size="8.85" font-weight="bold" fill="#ff0000">*T0=28/03/2026 13:18:09</text>
<text x="891.7" y="476.7" font-size="8.85" font-weight="bold" text-anchor="middle">Avg=3</text>
<text x="1052" y="476.7" font-size="8.85" font-weight="bold" fill="#ff0000" text-anchor="end">*BW=0.0117187</text>
<path d="M45.5,512V681M127.5,512V681M208.5,512V681M290.5,512V681M37.5,512V681M42.5,512V681M70.5,512V681M84.5,512V681M94.5,512V681M102.5,512V681M109.5,512V681M114.5,512V681M119.5,512V681M123.5,512V681M151.5,512V681M166.5,512V681M176.5,512V681M184.5,512V681M190.5,512V681M196.5,512V681M200.5,512V681M205.5,512V681M233.5,512V681M247.5,512V681M257.5,512V681M265.5,512V681M272.5,512V681M277.5,512V681M282.5,512V681M286.5,512V681M314.5,512V681M35,664.5H318M35,647.5H318M35,630.5H318M35,614.5H318M35,597.5H318M35,580.5H318M35,563.5H318M35,546.5H318M35,529.5H318" stroke="#000" stroke-width="1" stroke-dasharray="1,2" fill="none" shape-rendering="crispEdges"/>
<rect x="33.5" y="512.5" width="285" height="169" fill="none" stroke="#000" stroke-width="1" shape-rendering="crispEdges"/>
<path d="M45.5,681v-6M45.5,513v6M127.5,681v-6M127.5,513v6M208.5,681v-6M208.5,513v6M290.5,681v-6M290.5,513v6M37.5,681v-3M37.5,513v3M42.5,681v-3M42.5,513v3M70.5,681v-3M70.5,513v3M84.5,681v-3M84.5,513v3M94.5,681v-3M94.5,513v3M102.5,681v-3M102.5,513v3M109.5,681v-3M109.5,513v3M114.5,681v-3M114.5,513v3M119.5,681v-3M119.5,513v3M123.5,681v-3M123.5,513v3M151.5,681v-3M151.5,513v3M166.5,681v-3M166.5,513v3M176.5,681v-3M176.5,513v3M184.5,681v-3M184.5,513v3M190.5,681v-3M190.5,513v3M196.5,681v-3M196.5,513v3M200.5,681v-3M200.5,513v3M205.5,681v-3M205.5,513v3M233.5,681v-3M233.5,513v3M247.5,681v-3M247.5,513v3M257.5,681v-3M257.5,513v3M265.5,681v-3M265.5,513v3M272.5,681v-3M272.5,513v3M277.5,681v-3M277.5,513v3M282.5,681v-3M282.5,513v3M286.5,681v-3M286.5,513v3M314.5,681v-3M314.5,513v3M34,678.5h3M318,678.5h-4M34,674.5h3M318,674.5h-4M34,671.5h3M318,671.5h-4M34,668.5h3M318,668.5h-4M34,664.5h6M318,664.5h-7M34,661.5h3M318,661.5h-4M34,657.5h3M318,657.5h-4M34,654.5h3M318,654.5h-4M34,651.5h3M318,651.5h-4M34,647.5h6M318,647.5h-7M34,644.5h3M318,644.5h-4M34,641.5h3M318,641.5h-4M34,637.5h3M318,637.5h-4M34,634.5h3M318,634.5h-4M34,630.5h6M318,630.5h-7M34,627.5h3M318,627.5h-4M34,624.5h3M318,624.5h-4M34,620.5h3M318,620.5h-4M34,617.5h3M318,617.5h-4M34,614.5h6M318,614.5h-7M34,610.5h3M318,610.5h-4M34,607.5h3M318,607.5h-4M34,603.5h3M318,603.5h-4M34,600.5h3M318,600.5h-4M34,597.5h6M318,597.5h-7M34,593.5h3M318,593.5h-4M34,590.5h3M318,590.5h-4M34,587.5h3M318,587.5h-4M34,583.5h3M318,583.5h-4M34,580.5h6M318,580.5h-7M34,576.5h3M318,576.5h-4M34,573.5h3M318,573.5h-4M34,570.5h3M318,570.5h-4M34,566.5h3M318,566.5h-4M34,563.5h6M318,563.5h-7M34,560.5h3M318,560.5h-4M34,556.5h3M318,556.5h-4M34,553.5h3M318,553.5h-4M34,549.5h3M318,549.5h-4M34,546.5h6M318,546.5h-7M34,543.5h3M318,543.5h-4M34,539.5h3M318,539.5h-4M34,536.5h3M318,536.5h-4M34,533.5h3M318,533.5h-4M34,529.5h6M318,529.5h-7M34,526.5h3M318,526.5h-4M34,522.5h3M318,522.5h-4M34,519.5h3M318,519.5h-4M34,516.5h3M318,516.5h-4" stroke="#000" stroke-width="1" fill="none" shape-rendering="crispEdges"/>
<text x="30.8" y="684.6" font-size="9" font-weight="bold" text-anchor="end">0</text>
<text x="30.8" y="667.7" font-size="9" font-weight="bold" text-anchor="end">0.1</text>
<text x="30.8" y="650.9" font-size="9" font-weight="bold" text-anchor="end">0.2</text>
<text x="30.8" y="634.0" font-size="9" font-weight="bold" text-anchor="end">0.3</text>
<text x="30.8" y="617.1" font-size="9" font-weight="bold" text-anchor="end">0.4</text>
<text x="30.8" y="600.2" font-size="9" font-weight="bold" text-anchor="end">0.5</text>
<text x="30.8" y="583.4" font-size="9" font-weight="bold" text-anchor="end">0.6</text>
<text x="30.8" y="566.5" font-size="9" font-weight="bold" text-anchor="end">0.7</text>
<text x="30.8" y="549.6" font-size="9" font-weight="bold" text-anchor="end">0.8</text>
<text x="30.8" y="532.8" font-size="9" font-weight="bold" text-anchor="end">0.9</text>
<text x="46.0" y="692.8" font-size="9" font-weight="bold" text-anchor="end">10</text>
<text x="46.2" y="688.4" font-size="6" font-weight="bold"><tspan font-weight="normal">−</tspan>2</text>
<text x="127.5" y="692.8" font-size="9" font-weight="bold" text-anchor="end">10</text>
<text x="127.7" y="688.4" font-size="6" font-weight="bold"><tspan font-weight="normal">−</tspan>1</text>
<text x="209.3" y="692.6" font-size="9" font-weight="bold" text-anchor="middle">1</text>
<text x="290.8" y="692.6" font-size="9" font-weight="bold" text-anchor="middle">10</text>
<text x="174.5" y="705.6" font-size="8.9" font-weight="bold" text-anchor="middle">Frequency (Hz)</text>
<text transform="translate(12.4,596.5) rotate(-90)" font-size="9.9" font-weight="bold" text-anchor="middle">Coherence</text>
<clipPath id="pc0_488"><rect x="33" y="512" width="286" height="170"/></clipPath>
<g clip-path="url(#pc0_488)">
<path d="M158.5,512V514M159.5,514V516M160.5,516V521M161.5,521V549M162.5,549V573M163.5,531V555M164.5,524V531M165.5,527V538M166.5,534V547M167.5,519V534M168.5,514V519M169.5,512V514M186.5,512V514M187.5,514V519M188.5,519V530M189.5,521V536M190.5,514V521M191.5,512V514M211.5,512V514M212.5,512V514M215.5,512V514M229.5,512V514M232.5,512V514M234.5,512V514M239.5,512V514M240.5,512V514M245.5,512V514M246.5,512V514M248.5,512V514M250.5,512V514M252.5,512V514M253.5,512V515M254.5,512V515M255.5,512V516M256.5,512V516M257.5,512V516M258.5,512V517M259.5,512V519M260.5,512V514M261.5,512V515M262.5,512V519M263.5,512V514M264.5,512V515M265.5,512V515M266.5,512V523M267.5,512V523M268.5,512V518M269.5,512V528M270.5,512V519M271.5,512V529M272.5,512V527M273.5,512V550M274.5,512V560M275.5,512V586M276.5,512V593M277.5,512V602M278.5,513V623M279.5,512V637M280.5,513V642M281.5,516V659M282.5,513V653M283.5,513V651M284.5,513V641M285.5,513V628M286.5,512V583M287.5,512V590M288.5,512V576M289.5,512V551M290.5,512V542M291.5,512V536M292.5,512V533M293.5,512V525M294.5,512V527M295.5,512V529M296.5,512V522M297.5,512V526M298.5,512V526M299.5,512V526M300.5,512V526M301.5,512V522M302.5,512V523M303.5,512V523M304.5,512V525M305.5,512V525M306.5,512V522M307.5,512V523M308.5,512V522M309.5,512V521M310.5,512V524M311.5,512V523M312.5,512V522M313.5,512V523M314.5,512V523M37,512.5H158M170,512.5H186M192,512.5H211M213,512.5H215M216,512.5H229M230,512.5H232M233,512.5H234M235,512.5H239M241,512.5H245M247,512.5H248M249,512.5H250M251,512.5H252" stroke="#0000ff" stroke-width="1" fill="none" shape-rendering="crispEdges"/>
<path d="M158.5,513V516M159.5,516V519M160.5,519V523M161.5,523V528M162.5,528V585M163.5,581V639M164.5,524V581M165.5,551V613M166.5,584V650M167.5,518V584M168.5,516V518M169.5,514V516M192.5,512V514M193.5,514V529M194.5,514V523M195.5,512V514M200.5,512V519M201.5,512V517M206.5,512V514M208.5,512V518M211.5,512V518M212.5,512V514M213.5,512V514M219.5,512V514M226.5,512V514M233.5,512V514M235.5,512V514M240.5,512V514M245.5,512V514M250.5,512V514M254.5,512V516M255.5,512V514M256.5,512V516M257.5,512V514M258.5,512V514M260.5,512V517M261.5,512V517M262.5,512V520M263.5,512V518M264.5,512V522M266.5,512V518M267.5,512V520M268.5,512V524M269.5,512V521M270.5,512V523M271.5,512V529M272.5,512V534M273.5,512V542M274.5,512V550M275.5,512V567M276.5,512V581M277.5,512V600M278.5,512V598M279.5,512V630M280.5,513V634M281.5,512V644M282.5,513V613M283.5,512V603M284.5,512V601M285.5,512V561M286.5,512V581M287.5,512V575M288.5,512V554M289.5,512V540M290.5,512V537M291.5,512V528M292.5,512V523M293.5,512V523M294.5,512V520M295.5,512V522M296.5,512V520M297.5,512V521M298.5,512V520M299.5,512V523M300.5,512V518M301.5,512V523M302.5,512V518M303.5,512V522M304.5,512V521M305.5,512V518M306.5,512V518M307.5,512V517M308.5,512V521M309.5,512V521M310.5,512V519M311.5,512V521M312.5,512V521M313.5,512V521M314.5,512V520M37,512.5H158M171,512.5H192M196,512.5H200M202,512.5H206M207,512.5H208M209,512.5H211M214,512.5H219M220,512.5H226M227,512.5H233M234,512.5H235M236,512.5H240M241,512.5H245M246,512.5H250M251,512.5H254M259,512.5H260M265,512.5H266M170,513.5H171" stroke="#ff0000" stroke-width="1" fill="none" shape-rendering="crispEdges"/>
</g>
<rect x="46" y="661" width="268" height="21" fill="#000"/>
<rect x="40" y="655" width="271" height="23" fill="#000"/>
<rect x="41" y="656" width="269" height="21" fill="#fff"/>
<path d="M50,660.5H97" stroke="#ff0000" stroke-width="1" shape-rendering="crispEdges"/>
<path d="M50,671.5H97" stroke="#0000ff" stroke-width="1" shape-rendering="crispEdges"/>
<clipPath id="lc0_488"><rect x="41" y="656" width="269" height="21"/></clipPath>
<g clip-path="url(#lc0_488)" font-size="5" font-weight="bold"><text x="106.7" y="662.4">K1:VIS-SRM_F0_DAMP_GAS_IN1_DQ : K1:VIS-SRM_F0_TEST_GAS_IN2</text><text x="106.7" y="673.4">K1:VIS-SRM_F0_DAMP_GAS_IN1_DQ(REF3) : K1:VIS-SRM_F0_TEST_GAS_IN2(REF3)</text></g>
<rect x="1" y="493" width="184" height="20" fill="#000"/>
<rect x="3" y="490" width="181" height="22" fill="#000"/>
<rect x="4" y="491" width="179" height="20" fill="#fff"/>
<rect x="5" y="492" width="177" height="18" fill="#f2f2f2"/>
<text x="11.6" y="504.8" font-size="16.9" font-weight="bold" fill="#000">F0-&gt; F0 [Coherence]</text>
<text x="6.5" y="720.7" font-size="8.85" font-weight="bold" fill="#ff0000">*T0=28/03/2026 13:18:09</text>
<text x="167.7" y="720.7" font-size="8.85" font-weight="bold" text-anchor="middle">Avg=3</text>
<text x="328" y="720.7" font-size="8.85" font-weight="bold" fill="#000" text-anchor="end">BW=0.0117187</text>
</svg>
</body></html>
